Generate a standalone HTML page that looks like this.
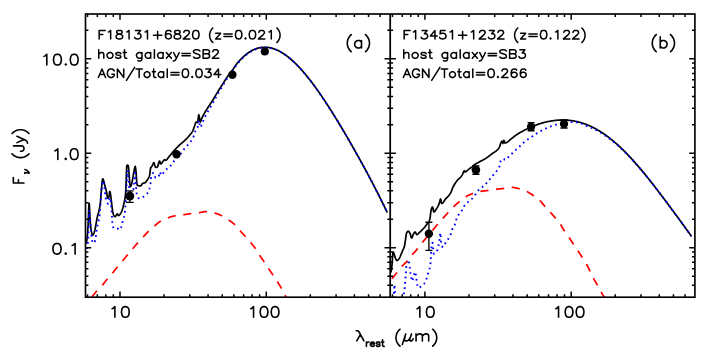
<!DOCTYPE html>
<html><head><meta charset="utf-8"><title>SED decomposition</title><style>html,body{margin:0;padding:0;background:#fff;width:709px;height:354px;overflow:hidden}body{font-family:"Liberation Sans",sans-serif;position:relative}</style></head><body>
<svg width="709" height="354" viewBox="0 0 709 354" style="display:block;position:absolute;left:0;top:0">
<rect width="709" height="354" fill="#fff"/>
<defs><clipPath id="cl"><rect x="85.50" y="14.00" width="304.70" height="283.20"/></clipPath><clipPath id="cr"><rect x="390.20" y="14.00" width="304.70" height="283.20"/></clipPath></defs>
<g clip-path="url(#cl)" fill="none" stroke-linejoin="round">
<path d="M86.30 243.00 L86.60 241.94 L86.90 239.88 L87.20 237.02 L87.50 233.56 L87.80 229.70 L88.10 225.31 L88.40 217.46 L88.70 208.67 L89.00 203.06 L89.30 203.89 L89.60 209.25 L89.90 216.06 L90.20 221.30 L90.50 224.59 L90.80 227.46 L91.10 229.76 L91.40 231.39 L91.70 232.80 L92.00 234.02 L92.30 234.88 L92.60 235.20 L92.90 235.07 L93.20 234.72 L93.50 234.18 L93.80 233.49 L94.10 232.69 L94.40 231.81 L94.70 230.90 L95.00 229.71 L95.30 228.12 L95.60 226.37 L95.90 224.70 L96.20 223.09 L96.50 221.41 L96.80 219.74 L97.10 218.14 L97.40 216.67 L97.70 215.41 L98.00 214.38 L98.30 213.44 L98.60 212.40 L98.90 211.15 L99.20 209.82 L99.50 208.36 L99.80 206.71 L100.10 204.81 L100.40 202.60 L100.70 199.36 L101.00 195.16 L101.30 191.12 L101.60 187.81 L101.90 184.35 L102.20 181.27 L102.50 179.25 L102.80 178.83 L103.10 179.18 L103.40 179.89 L103.70 180.87 L104.00 182.02 L104.30 183.25 L104.60 184.47 L104.90 185.60 L105.20 186.68 L105.50 187.80 L105.80 188.98 L106.10 190.21 L106.40 191.50 L106.70 192.91 L107.00 194.85 L107.30 196.81 L107.60 198.00 L107.90 198.06 L108.20 197.87 L108.50 197.53 L108.80 197.07 L109.10 195.98 L109.40 193.46 L109.70 191.47 L110.00 191.58 L110.30 192.87 L110.60 194.83 L110.90 197.06 L111.20 199.24 L111.50 201.91 L111.80 204.85 L112.10 207.48 L112.40 209.52 L112.70 211.43 L113.00 213.07 L113.30 214.25 L113.60 214.92 L113.90 215.49 L114.20 215.99 L114.50 216.37 L114.80 216.61 L115.10 216.70 L115.40 216.56 L115.70 216.19 L116.00 215.68 L116.30 215.11 L116.60 214.57 L116.90 214.14 L117.20 213.92 L117.50 214.03 L117.80 214.54 L118.10 215.16 L118.40 215.57 L118.70 215.57 L119.00 215.43 L119.30 215.18 L119.60 214.85 L119.90 214.46 L120.20 214.04 L120.50 213.59 L120.80 213.15 L121.10 212.62 L121.40 212.00 L121.70 211.30 L122.00 210.52 L122.30 209.69 L122.60 208.78 L122.90 207.73 L123.20 206.55 L123.50 205.29 L123.80 203.96 L124.10 202.60 L124.40 201.28 L124.70 199.92 L125.00 198.27 L125.30 196.10 L125.60 193.00 L125.90 188.61 L126.20 180.60 L126.50 170.80 L126.80 165.60 L127.10 165.34 L127.40 165.22 L127.70 165.22 L128.00 165.46 L128.30 165.97 L128.60 167.90 L128.90 172.00 L129.20 175.60 L129.50 179.50 L129.80 183.08 L130.10 185.69 L130.40 186.70 L130.70 186.43 L131.00 185.78 L131.30 185.00 L131.60 184.08 L131.90 182.87 L132.20 181.43 L132.50 179.82 L132.80 178.08 L133.10 176.29 L133.40 174.48 L133.70 172.72 L134.00 171.07 L134.30 169.58 L134.60 168.30 L134.90 167.01 L135.20 166.30 L135.50 167.38 L135.80 169.50 L136.10 172.63 L136.40 177.01 L136.70 181.40 L137.00 184.53 L137.30 185.34 L137.60 185.45 L137.90 185.55 L138.20 185.63 L138.50 185.70 L138.80 185.76 L139.10 185.81 L139.40 185.85 L139.70 185.87 L140.00 185.89 L140.30 185.90 L140.60 185.89 L140.90 185.71 L141.20 185.38 L141.50 184.95 L141.80 184.47 L142.10 184.00 L142.40 183.61 L142.70 183.35 L143.00 183.23 L143.30 183.16 L143.60 183.10 L143.90 183.05 L144.20 183.00 L144.50 182.95 L144.80 182.87 L145.10 182.76 L145.40 182.55 L145.70 182.26 L146.00 181.89 L146.30 181.46 L146.60 181.01 L146.90 180.53 L147.20 180.05 L147.50 179.60 L147.80 179.17 L148.10 178.73 L148.40 178.25 L148.70 177.71 L149.00 177.07 L149.30 176.31 L149.60 175.40 L149.90 173.52 L150.20 170.79 L150.50 168.58 L150.80 167.74 L151.10 167.21 L151.40 166.82 L151.70 166.49 L152.00 166.14 L152.30 165.70 L152.60 165.06 L152.90 164.28 L153.20 163.51 L153.50 162.93 L153.80 162.70 L154.10 163.01 L154.40 163.81 L154.70 164.86 L155.00 165.96 L155.30 166.86 L155.60 167.36 L155.90 167.39 L156.20 167.35 L156.50 167.27 L156.80 167.17 L157.10 167.05 L157.40 166.90 L157.70 166.49 L158.00 165.66 L158.30 164.58 L158.60 163.42 L158.90 162.33 L159.20 161.48 L159.50 161.03 L159.80 161.22 L160.10 162.13 L160.40 163.22 L160.70 163.94 L161.00 163.96 L161.30 163.77 L161.60 163.46 L161.90 163.05 L162.20 162.58 L162.50 162.08 L162.80 161.58 L163.10 161.11 L163.40 160.71 L163.70 160.40 L164.00 160.08 L164.30 159.81 L164.60 159.70 L164.90 159.83 L165.20 160.09 L165.50 160.28 L165.80 160.28 L166.10 160.16 L166.40 159.96 L166.70 159.68 L167.00 159.35 L167.30 158.98 L167.60 158.57 L167.90 158.15 L168.20 157.73 L168.50 157.32 L168.80 156.94 L169.10 156.59 L169.40 156.24 L169.70 155.89 L170.00 155.53 L170.30 155.17 L170.60 154.80 L170.90 154.43 L171.20 154.06 L171.50 153.69 L171.80 153.33 L172.10 152.97 L172.40 152.62 L172.70 152.27 L173.00 151.92 L173.30 151.58 L173.60 151.24 L173.90 150.90 L174.20 150.56 L174.50 150.23 L174.80 149.90 L175.10 149.57 L175.40 149.24 L175.70 148.92 L176.00 148.60 L176.30 148.28 L176.60 147.97 L176.90 147.66 L177.20 147.35 L177.50 147.04 L177.80 146.73 L178.10 146.43 L178.40 146.13 L178.70 145.83 L179.00 145.53 L179.30 145.24 L179.60 144.95 L179.90 144.66 L180.20 144.38 L180.50 144.10 L180.80 143.83 L181.10 143.56 L181.40 143.30 L181.70 143.04 L182.00 142.79 L182.30 142.54 L182.60 142.29 L182.90 142.04 L183.20 141.79 L183.50 141.54 L183.80 141.28 L184.10 141.02 L184.40 140.76 L184.70 140.48 L185.00 140.20 L185.30 139.91 L185.60 139.62 L185.90 139.33 L186.20 139.03 L186.50 138.73 L186.80 138.42 L187.10 138.11 L187.40 137.79 L187.70 137.47 L188.00 137.14 L188.30 136.81 L188.60 136.47 L188.90 136.12 L189.20 135.76 L189.50 135.40 L189.80 135.04 L190.10 134.67 L190.40 134.31 L190.70 133.94 L191.00 133.56 L191.30 133.16 L191.60 132.75 L191.90 132.31 L192.20 131.84 L192.50 131.33 L192.80 130.79 L193.10 130.18 L193.40 129.44 L193.70 128.61 L194.00 127.73 L194.30 126.84 L194.60 126.00 L194.90 125.07 L195.20 124.01 L195.50 123.02 L195.80 122.29 L196.10 122.00 L196.40 122.07 L196.70 122.24 L197.00 122.43 L197.30 122.57 L197.60 122.47 L197.90 120.82 L198.20 118.20 L198.50 115.77 L198.80 114.70 L199.10 115.46 L199.40 117.27 L199.70 119.43 L200.00 121.24 L200.30 122.00 L200.60 121.62 L200.90 120.75 L201.20 119.75 L201.50 118.97 L201.80 118.31 L202.10 117.66 L202.40 117.04 L202.70 116.43 L203.00 115.84 L203.30 115.26 L203.60 114.70 L203.90 114.14 L204.20 113.60 L204.50 113.07 L204.80 112.55 L205.10 112.03 L205.40 111.53 L205.70 111.04 L206.00 110.56 L206.30 110.08 L206.60 109.60 L206.90 109.14 L207.20 108.67 L207.50 108.21 L207.80 107.75 L208.10 107.28 L208.40 106.82 L208.70 106.36 L209.00 105.89 L209.30 105.43 L209.60 104.98 L209.90 104.53 L210.20 104.08 L210.50 103.64 L210.80 103.19 L211.10 102.75 L211.40 102.30 L211.70 101.85 L212.00 101.39 L212.30 100.93 L212.60 100.46 L212.90 99.98 L213.20 99.49 L213.50 98.99 L213.80 98.49 L214.10 97.98 L214.40 97.46 L214.70 96.94 L215.00 96.43 L215.30 95.91 L215.60 95.39 L215.90 94.88 L216.20 94.37 L216.50 93.86 L216.80 93.36 L217.10 92.87 L217.40 92.39 L217.70 91.90 L218.00 91.42 L218.30 90.94 L218.60 90.46 L218.90 89.99 L219.20 89.51 L219.50 89.04 L219.80 88.57 L220.10 88.10 L220.40 87.63 L220.70 87.16 L221.00 86.70 L221.30 86.23 L221.60 85.76 L221.90 85.29 L222.20 84.82 L222.50 84.36 L222.80 83.89 L223.10 83.41 L223.40 82.94 L223.70 82.46 L224.00 81.98 L224.30 81.51 L224.60 81.03 L224.90 80.55 L225.20 80.08 L225.50 79.61 L225.80 79.14 L226.10 78.68 L226.40 78.22 L226.70 77.76 L227.00 77.32 L227.30 76.87 L227.60 76.44 L227.90 76.02 L228.20 75.61 L228.50 75.20 L228.80 74.80 L229.10 74.41 L229.40 74.03 L229.70 73.65 L230.00 73.27 L230.30 72.89 L230.60 72.52 L230.90 72.14 L231.20 71.76 L231.50 71.38 L231.80 70.99 L232.10 70.59 L232.40 70.19 L232.70 69.78 L233.00 69.36 L233.30 68.92 L233.60 68.47 L233.90 68.00 L234.20 67.53 L234.50 67.06 L234.80 66.59 L235.10 66.13 L235.40 65.68 L235.70 65.24 L236.00 64.83 L236.30 64.44 L236.60 64.05 L236.90 63.68 L237.20 63.31 L237.50 62.96 L237.80 62.60 L238.10 62.26 L238.40 61.92 L238.70 61.58 L239.00 61.24 L239.30 60.90 L239.60 60.57 L239.90 60.25 L240.20 59.92 L240.50 59.60 L240.80 59.29 L241.10 58.98 L241.40 58.67 L241.70 58.37 L242.00 58.08 L242.30 57.78 L242.60 57.50 L242.90 57.21 L243.20 56.93 L243.50 56.65 L243.80 56.38 L244.10 56.11 L244.40 55.85 L244.70 55.59 L245.00 55.33 L245.30 55.08 L245.60 54.84 L245.90 54.59 L246.20 54.36 L246.50 54.12 L246.80 53.89 L247.10 53.66 L247.40 53.44 L247.70 53.22 L248.00 53.01 L248.30 52.80 L248.60 52.59 L248.90 52.39 L249.20 52.19 L249.50 52.00 L249.80 51.81 L250.10 51.62 L250.40 51.44 L250.70 51.26 L251.00 51.09 L251.30 50.92 L251.60 50.75 L251.90 50.59 L252.20 50.43 L252.50 50.28 L252.80 50.13 L253.10 49.98 L253.40 49.84 L253.70 49.70 L254.00 49.57 L254.30 49.44 L254.60 49.31 L254.90 49.19 L255.20 49.07 L255.50 48.95 L255.80 48.84 L256.10 48.73 L256.40 48.63 L256.70 48.53 L257.00 48.43 L257.30 48.34 L257.60 48.26 L257.90 48.17 L258.20 48.09 L258.50 48.01 L258.80 47.93 L259.10 47.86 L259.40 47.79 L259.70 47.73 L260.00 47.68 L260.30 47.63 L260.60 47.58 L260.90 47.52 L261.20 47.48 L261.50 47.43 L261.80 47.39 L262.10 47.35 L262.40 47.32 L262.70 47.30 L263.00 47.29 L263.30 47.29 L263.60 47.28 L263.90 47.28 L264.20 47.28 L264.50 47.27 L264.80 47.27 L265.10 47.27 L265.40 47.27 L265.70 47.27 L266.00 47.27 L266.30 47.27 L266.60 47.29 L266.90 47.31 L267.20 47.34 L267.50 47.37 L267.80 47.41 L268.10 47.45 L268.40 47.50 L268.70 47.54 L269.00 47.58 L269.30 47.63 L269.60 47.68 L269.90 47.74 L270.20 47.80 L270.50 47.87 L270.80 47.94 L271.10 48.01 L271.40 48.08 L271.70 48.16 L272.00 48.24 L272.30 48.32 L272.60 48.40 L272.90 48.49 L273.20 48.59 L273.50 48.68 L273.80 48.78 L274.10 48.89 L274.40 48.99 L274.70 49.10 L275.00 49.21 L275.30 49.32 L275.60 49.44 L275.90 49.56 L276.20 49.69 L276.50 49.81 L276.80 49.95 L277.10 50.08 L277.40 50.22 L277.70 50.35 L278.00 50.50 L278.30 50.64 L278.60 50.79 L278.90 50.94 L279.20 51.09 L279.50 51.25 L279.80 51.41 L280.10 51.57 L280.40 51.74 L280.70 51.91 L281.00 52.08 L281.30 52.25 L281.60 52.43 L281.90 52.61 L282.20 52.79 L282.50 52.97 L282.80 53.16 L283.10 53.35 L283.40 53.55 L283.70 53.74 L284.00 53.94 L284.30 54.14 L284.60 54.35 L284.90 54.55 L285.20 54.76 L285.50 54.98 L285.80 55.19 L286.10 55.41 L286.40 55.63 L286.70 55.85 L287.00 56.08 L287.30 56.31 L287.60 56.54 L287.90 56.77 L288.20 57.01 L288.50 57.24 L288.80 57.49 L289.10 57.73 L289.40 57.97 L289.70 58.22 L290.00 58.47 L290.30 58.73 L290.60 58.98 L290.90 59.24 L291.20 59.50 L291.50 59.76 L291.80 60.03 L292.10 60.30 L292.40 60.57 L292.70 60.84 L293.00 61.11 L293.30 61.39 L293.60 61.67 L293.90 61.95 L294.20 62.23 L294.50 62.52 L294.80 62.81 L295.10 63.10 L295.40 63.39 L295.70 63.69 L296.00 63.98 L296.30 64.28 L296.60 64.58 L296.90 64.89 L297.20 65.19 L297.50 65.50 L297.80 65.81 L298.10 66.12 L298.40 66.44 L298.70 66.75 L299.00 67.07 L299.30 67.39 L299.60 67.72 L299.90 68.04 L300.20 68.37 L300.50 68.70 L300.80 69.03 L301.10 69.36 L301.40 69.69 L301.70 70.03 L302.00 70.37 L302.30 70.71 L302.60 71.05 L302.90 71.40 L303.20 71.74 L303.50 72.09 L303.80 72.44 L304.10 72.79 L304.40 73.15 L304.70 73.50 L305.00 73.86 L305.30 74.22 L305.60 74.58 L305.90 74.94 L306.20 75.30 L306.50 75.67 L306.80 76.04 L307.10 76.41 L307.40 76.78 L307.70 77.15 L308.00 77.53 L308.30 77.90 L308.60 78.28 L308.90 78.66 L309.20 79.04 L309.50 79.43 L309.80 79.81 L310.10 80.20 L310.40 80.59 L310.70 80.98 L311.00 81.37 L311.30 81.76 L311.60 82.15 L311.90 82.55 L312.20 82.95 L312.50 83.35 L312.80 83.75 L313.10 84.15 L313.40 84.55 L313.70 84.96 L314.00 85.36 L314.30 85.77 L314.60 86.18 L314.90 86.59 L315.20 87.00 L315.50 87.42 L315.80 87.83 L316.10 88.25 L316.40 88.67 L316.70 89.09 L317.00 89.51 L317.30 89.93 L317.60 90.35 L317.90 90.78 L318.20 91.20 L318.50 91.63 L318.80 92.06 L319.10 92.49 L319.40 92.92 L319.70 93.35 L320.00 93.79 L320.30 94.22 L320.60 94.66 L320.90 95.09 L321.20 95.53 L321.50 95.97 L321.80 96.41 L322.10 96.86 L322.40 97.30 L322.70 97.74 L323.00 98.19 L323.30 98.64 L323.60 99.08 L323.90 99.53 L324.20 99.98 L324.50 100.43 L324.80 100.89 L325.10 101.34 L325.40 101.79 L325.70 102.25 L326.00 102.71 L326.30 103.16 L326.60 103.62 L326.90 104.08 L327.20 104.54 L327.50 105.01 L327.80 105.47 L328.10 105.93 L328.40 106.40 L328.70 106.87 L329.00 107.33 L329.30 107.80 L329.60 108.27 L329.90 108.74 L330.20 109.21 L330.50 109.68 L330.80 110.15 L331.10 110.63 L331.40 111.10 L331.70 111.58 L332.00 112.06 L332.30 112.53 L332.60 113.01 L332.90 113.49 L333.20 113.97 L333.50 114.45 L333.80 114.93 L334.10 115.42 L334.40 115.90 L334.70 116.38 L335.00 116.87 L335.30 117.35 L335.60 117.84 L335.90 118.33 L336.20 118.82 L336.50 119.31 L336.80 119.80 L337.10 120.29 L337.40 120.78 L337.70 121.27 L338.00 121.77 L338.30 122.26 L338.60 122.75 L338.90 123.25 L339.20 123.75 L339.50 124.24 L339.80 124.74 L340.10 125.24 L340.40 125.74 L340.70 126.24 L341.00 126.74 L341.30 127.24 L341.60 127.75 L341.90 128.25 L342.20 128.75 L342.50 129.26 L342.80 129.76 L343.10 130.27 L343.40 130.77 L343.70 131.28 L344.00 131.79 L344.30 132.30 L344.60 132.81 L344.90 133.32 L345.20 133.83 L345.50 134.34 L345.80 134.85 L346.10 135.36 L346.40 135.88 L346.70 136.39 L347.00 136.91 L347.30 137.42 L347.60 137.94 L347.90 138.45 L348.20 138.97 L348.50 139.49 L348.80 140.01 L349.10 140.53 L349.40 141.05 L349.70 141.57 L350.00 142.09 L350.30 142.61 L350.60 143.13 L350.90 143.66 L351.20 144.18 L351.50 144.71 L351.80 145.23 L352.10 145.76 L352.40 146.28 L352.70 146.81 L353.00 147.34 L353.30 147.86 L353.60 148.39 L353.90 148.92 L354.20 149.45 L354.50 149.98 L354.80 150.52 L355.10 151.05 L355.40 151.58 L355.70 152.11 L356.00 152.65 L356.30 153.18 L356.60 153.72 L356.90 154.25 L357.20 154.79 L357.50 155.33 L357.80 155.86 L358.10 156.40 L358.40 156.94 L358.70 157.48 L359.00 158.02 L359.30 158.56 L359.60 159.10 L359.90 159.65 L360.20 160.19 L360.50 160.73 L360.80 161.28 L361.10 161.82 L361.40 162.37 L361.70 162.91 L362.00 163.46 L362.30 164.01 L362.60 164.56 L362.90 165.11 L363.20 165.66 L363.50 166.21 L363.80 166.76 L364.10 167.31 L364.40 167.86 L364.70 168.41 L365.00 168.97 L365.30 169.52 L365.60 170.08 L365.90 170.63 L366.20 171.19 L366.50 171.75 L366.80 172.31 L367.10 172.87 L367.40 173.43 L367.70 173.99 L368.00 174.55 L368.30 175.11 L368.60 175.67 L368.90 176.24 L369.20 176.80 L369.50 177.37 L369.80 177.93 L370.10 178.50 L370.40 179.07 L370.70 179.64 L371.00 180.21 L371.30 180.78 L371.60 181.35 L371.90 181.92 L372.20 182.49 L372.50 183.07 L372.80 183.64 L373.10 184.22 L373.40 184.80 L373.70 185.37 L374.00 185.95 L374.30 186.53 L374.60 187.11 L374.90 187.69 L375.20 188.28 L375.50 188.86 L375.80 189.44 L376.10 190.03 L376.40 190.62 L376.70 191.20 L377.00 191.79 L377.30 192.38 L377.60 192.97 L377.90 193.56 L378.20 194.16 L378.50 194.75 L378.80 195.34 L379.10 195.94 L379.40 196.54 L379.70 197.14 L380.00 197.74 L380.30 198.34 L380.60 198.94 L380.90 199.54 L381.20 200.15 L381.50 200.75 L381.80 201.36 L382.10 201.96 L382.40 202.57 L382.70 203.18 L383.00 203.80 L383.30 204.41 L383.60 205.02 L383.90 205.64 L384.20 206.26 L384.50 206.88 L384.80 207.50 L385.10 208.12 L385.40 208.74 L385.70 209.36 L386.00 209.99 L386.30 210.61 L386.60 211.24 L386.90 211.87 L386.90 211.87" stroke="#000" stroke-width="1.7" stroke-linecap="round"/>
<path d="M87.20 249.00 L87.50 246.50 L87.80 244.23 L88.10 240.71 L88.40 233.88 L88.70 225.30 L89.00 220.20 L89.30 210.21 L89.60 212.38 L89.90 217.35 L90.20 220.20 L90.50 224.36 L90.80 228.83 L91.10 232.50 L91.40 235.04 L91.70 237.10 L92.00 239.14 L92.30 241.09 L92.60 242.45 L92.90 242.83 L93.20 242.90 L93.50 242.95 L93.80 242.98 L94.10 243.00 L94.40 242.86 L94.70 242.19 L95.00 241.10 L95.30 239.72 L95.60 238.20 L95.90 235.89 L96.20 233.20 L96.50 230.86 L96.80 228.69 L97.10 227.00 L97.40 225.70 L97.70 224.58 L98.00 223.42 L98.30 222.15 L98.60 220.90 L98.90 219.55 L99.20 217.93 L99.50 215.82 L99.80 212.89 L100.10 208.26 L100.40 204.32 L100.70 200.90 L101.00 194.70 L101.30 191.39 L101.60 188.66 L101.90 185.93 L102.20 183.90 L102.50 182.15 L102.80 180.89 L103.10 180.64 L103.40 181.24 L103.70 182.38 L104.00 183.90 L104.30 185.60 L104.60 188.18 L104.90 191.30 L105.20 194.36 L105.50 196.90 L105.80 198.57 L106.10 199.95 L106.40 201.00 L106.70 201.70 L107.00 202.29 L107.30 202.81 L107.60 203.24 L107.90 203.54 L108.20 203.69 L108.50 203.30 L108.80 201.65 L109.10 199.55 L109.40 197.90 L109.70 197.53 L110.00 198.00 L110.30 198.96 L110.60 200.35 L110.90 203.50 L111.20 207.55 L111.50 209.70 L111.80 213.29 L112.10 218.71 L112.40 222.19 L112.70 224.38 L113.00 226.24 L113.30 227.58 L113.60 228.10 L113.90 228.10 L114.20 228.10 L114.50 228.10 L114.80 228.10 L115.10 228.10 L115.40 228.10 L115.70 228.10 L116.00 228.10 L116.30 228.10 L116.60 228.10 L116.90 228.11 L117.20 228.22 L117.50 228.43 L117.80 228.70 L118.10 229.00 L118.40 229.30 L118.70 229.55 L119.00 229.73 L119.30 229.80 L119.60 229.72 L119.90 229.50 L120.20 229.15 L120.50 228.68 L120.80 228.10 L121.10 227.44 L121.40 226.69 L121.70 225.87 L122.00 225.00 L122.30 223.83 L122.60 221.94 L122.90 220.07 L123.20 218.86 L123.50 218.02 L123.80 217.33 L124.10 216.60 L124.40 215.66 L124.70 214.30 L125.00 211.37 L125.30 207.57 L125.60 203.20 L125.90 194.78 L126.20 189.45 L126.50 185.13 L126.80 179.64 L127.10 174.57 L127.40 170.38 L127.70 170.78 L128.00 173.78 L128.30 177.08 L128.60 180.78 L128.90 184.50 L129.20 187.90 L129.50 190.72 L129.80 193.33 L130.10 195.11 L130.40 195.49 L130.70 195.29 L131.00 194.91 L131.30 194.40 L131.60 193.81 L131.90 193.20 L132.20 192.60 L132.50 191.96 L132.80 191.22 L133.10 190.33 L133.40 189.24 L133.70 187.90 L134.00 185.47 L134.30 182.30 L134.60 178.49 L134.90 174.53 L135.20 172.70 L135.50 175.48 L135.80 181.33 L136.10 186.91 L136.40 191.23 L136.70 193.86 L137.00 195.52 L137.30 196.19 L137.60 196.72 L137.90 197.18 L138.20 197.58 L138.50 197.91 L138.80 198.18 L139.10 198.38 L139.40 198.51 L139.70 198.59 L140.00 198.60 L140.30 198.56 L140.60 198.49 L140.90 198.38 L141.20 198.24 L141.50 198.08 L141.80 197.90 L142.10 197.70 L142.40 197.50 L142.70 197.30 L143.00 197.09 L143.30 196.90 L143.60 196.71 L143.90 196.51 L144.20 196.31 L144.50 196.10 L144.80 195.87 L145.10 195.64 L145.40 195.39 L145.70 195.12 L146.00 194.83 L146.30 194.53 L146.60 194.20 L146.90 193.85 L147.20 193.47 L147.50 193.04 L147.80 192.55 L148.10 191.99 L148.40 191.37 L148.70 190.68 L149.00 189.92 L149.30 189.09 L149.60 188.19 L149.90 187.18 L150.20 185.89 L150.50 184.13 L150.80 180.26 L151.10 177.12 L151.40 176.09 L151.70 175.22 L152.00 174.50 L152.30 173.93 L152.60 173.49 L152.90 173.18 L153.20 172.99 L153.50 172.91 L153.80 173.06 L154.10 173.77 L154.40 174.82 L154.70 175.95 L155.00 176.92 L155.30 177.46 L155.60 177.50 L155.90 177.49 L156.20 177.48 L156.50 177.46 L156.80 177.44 L157.10 177.40 L157.40 177.36 L157.70 177.31 L158.00 177.25 L158.30 177.18 L158.60 177.10 L158.90 176.10 L159.20 174.11 L159.50 172.34 L159.80 171.93 L160.10 172.29 L160.40 172.94 L160.70 173.73 L161.00 174.50 L161.30 175.07 L161.60 175.30 L161.90 175.20 L162.20 174.93 L162.50 174.53 L162.80 174.02 L163.10 173.44 L163.40 172.84 L163.70 172.24 L164.00 171.67 L164.30 171.18 L164.60 170.80 L164.90 170.50 L165.20 170.22 L165.50 169.97 L165.80 169.73 L166.10 169.50 L166.40 169.28 L166.70 169.07 L167.00 168.85 L167.30 168.64 L167.60 168.41 L167.90 168.17 L168.20 167.91 L168.50 167.66 L168.80 167.40 L169.10 167.14 L169.40 166.88 L169.70 166.61 L170.00 166.34 L170.30 166.05 L170.60 165.76 L170.90 165.45 L171.20 165.14 L171.50 164.80 L171.80 164.43 L172.10 164.03 L172.40 163.60 L172.70 163.15 L173.00 162.68 L173.30 162.21 L173.60 161.74 L173.90 161.28 L174.20 160.84 L174.50 160.43 L174.80 160.05 L175.10 159.68 L175.40 159.32 L175.70 158.97 L176.00 158.64 L176.30 158.30 L176.60 157.98 L176.90 157.66 L177.20 157.35 L177.50 157.04 L177.80 156.73 L178.10 156.42 L178.40 156.12 L178.70 155.81 L179.00 155.50 L179.30 155.19 L179.60 154.87 L179.90 154.55 L180.20 154.23 L180.50 153.90 L180.80 153.55 L181.10 153.21 L181.40 152.85 L181.70 152.47 L182.00 152.08 L182.30 151.67 L182.60 151.25 L182.90 150.82 L183.20 150.38 L183.50 149.94 L183.80 149.51 L184.10 149.08 L184.40 148.67 L184.70 148.27 L185.00 147.90 L185.30 147.55 L185.60 147.22 L185.90 146.90 L186.20 146.59 L186.50 146.29 L186.80 145.99 L187.10 145.69 L187.40 145.39 L187.70 145.09 L188.00 144.77 L188.30 144.44 L188.60 144.10 L188.90 143.75 L189.20 143.40 L189.50 143.04 L189.80 142.68 L190.10 142.31 L190.40 141.92 L190.70 141.53 L191.00 141.11 L191.30 140.68 L191.60 140.22 L191.90 139.74 L192.20 139.23 L192.50 138.69 L192.80 138.12 L193.10 137.51 L193.40 136.87 L193.70 136.19 L194.00 135.47 L194.30 134.70 L194.60 133.77 L194.90 132.66 L195.20 131.50 L195.50 130.44 L195.80 129.60 L196.10 129.02 L196.40 128.58 L196.70 128.22 L197.00 127.87 L197.30 127.48 L197.60 126.97 L197.90 126.28 L198.20 124.78 L198.50 121.90 L198.80 120.30 L199.10 121.39 L199.40 123.80 L199.70 126.21 L200.00 127.30 L200.30 127.19 L200.60 126.89 L200.90 126.44 L201.20 125.88 L201.50 125.24 L201.80 124.57 L202.10 123.91 L202.40 123.24 L202.70 122.41 L203.00 121.49 L203.30 120.55 L203.60 119.64 L203.90 118.83 L204.20 118.17 L204.50 117.57 L204.80 117.01 L205.10 116.48 L205.40 115.98 L205.70 115.49 L206.00 115.00 L206.30 114.50 L206.60 113.98 L206.90 113.44 L207.20 112.88 L207.50 112.32 L207.80 111.76 L208.10 111.20 L208.40 110.64 L208.70 110.08 L209.00 109.53 L209.30 109.00 L209.60 108.48 L209.90 107.97 L210.20 107.48 L210.50 106.98 L210.80 106.49 L211.10 106.00 L211.40 105.50 L211.70 105.00 L212.00 104.48 L212.30 103.94 L212.60 103.38 L212.90 102.82 L213.20 102.25 L213.50 101.67 L213.80 101.10 L214.10 100.54 L214.40 99.98 L214.70 99.43 L215.00 98.87 L215.30 98.32 L215.60 97.77 L215.90 97.23 L216.20 96.68 L216.50 96.14 L216.80 95.61 L217.10 95.08 L217.40 94.56 L217.70 94.04 L218.00 93.53 L218.30 93.02 L218.60 92.51 L218.90 92.01 L219.20 91.50 L219.50 91.00 L219.80 90.50 L220.10 90.00 L220.40 89.51 L220.70 89.01 L221.00 88.52 L221.30 88.02 L221.60 87.53 L221.90 87.03 L222.20 86.54 L222.50 86.04 L222.80 85.55 L223.10 85.05 L223.40 84.55 L223.70 84.04 L224.00 83.54 L224.30 83.04 L224.60 82.54 L224.90 82.04 L225.20 81.54 L225.50 81.04 L225.80 80.55 L226.10 80.07 L226.40 79.58 L226.70 79.11 L227.00 78.64 L227.30 78.18 L227.60 77.73 L227.90 77.29 L228.20 76.86 L228.50 76.43 L228.80 76.01 L229.10 75.60 L229.40 75.20 L229.70 74.80 L230.00 74.41 L230.30 74.02 L230.60 73.62 L230.90 73.23 L231.20 72.83 L231.50 72.44 L231.80 72.03 L232.10 71.62 L232.40 71.19 L232.70 70.76 L233.00 70.32 L233.30 69.87 L233.60 69.41 L233.90 68.93 L234.20 68.44 L234.50 67.94 L234.80 67.46 L235.10 66.99 L235.40 66.54 L235.70 66.10 L236.00 65.66 L236.30 65.24 L236.60 64.84 L236.90 64.45 L237.20 64.07 L237.50 63.70 L237.80 63.34 L238.10 62.98 L238.40 62.62 L238.70 62.27 L239.00 61.92 L239.30 61.58 L239.60 61.24 L239.90 60.90 L240.20 60.56 L240.50 60.24 L240.80 59.91 L241.10 59.59 L241.40 59.28 L241.70 58.97 L242.00 58.66 L242.30 58.36 L242.60 58.06 L242.90 57.77 L243.20 57.48 L243.50 57.19 L243.80 56.91 L244.10 56.64 L244.40 56.37 L244.70 56.10 L245.00 55.84 L245.30 55.58 L245.60 55.33 L245.90 55.08 L246.20 54.83 L246.50 54.59 L246.80 54.35 L247.10 54.12 L247.40 53.89 L247.70 53.67 L248.00 53.45 L248.30 53.23 L248.60 53.02 L248.90 52.81 L249.20 52.61 L249.50 52.41 L249.80 52.21 L250.10 52.02 L250.40 51.83 L250.70 51.65 L251.00 51.47 L251.30 51.30 L251.60 51.13 L251.90 50.96 L252.20 50.80 L252.50 50.64 L252.80 50.48 L253.10 50.33 L253.40 50.19 L253.70 50.04 L254.00 49.91 L254.30 49.77 L254.60 49.64 L254.90 49.51 L255.20 49.39 L255.50 49.27 L255.80 49.15 L256.10 49.04 L256.40 48.93 L256.70 48.83 L257.00 48.73 L257.30 48.63 L257.60 48.54 L257.90 48.45 L258.20 48.36 L258.50 48.28 L258.80 48.20 L259.10 48.13 L259.40 48.06 L259.70 48.00 L260.00 47.94 L260.30 47.88 L260.60 47.83 L260.90 47.77 L261.20 47.71 L261.50 47.66 L261.80 47.62 L262.10 47.59 L262.40 47.57 L262.70 47.55 L263.00 47.53 L263.30 47.52 L263.60 47.51 L263.90 47.50 L264.20 47.49 L264.50 47.49 L264.80 47.48 L265.10 47.48 L265.40 47.48 L265.70 47.48 L266.00 47.48 L266.30 47.48 L266.60 47.48 L266.90 47.50 L267.20 47.53 L267.50 47.57 L267.80 47.61 L268.10 47.64 L268.40 47.68 L268.70 47.72 L269.00 47.77 L269.30 47.81 L269.60 47.86 L269.90 47.92 L270.20 47.98 L270.50 48.04 L270.80 48.11 L271.10 48.18 L271.40 48.25 L271.70 48.33 L272.00 48.40 L272.30 48.48 L272.60 48.57 L272.90 48.66 L273.20 48.75 L273.50 48.85 L273.80 48.94 L274.10 49.05 L274.40 49.15 L274.70 49.26 L275.00 49.37 L275.30 49.48 L275.60 49.59 L275.90 49.71 L276.20 49.84 L276.50 49.96 L276.80 50.09 L277.10 50.23 L277.40 50.36 L277.70 50.50 L278.00 50.64 L278.30 50.78 L278.60 50.93 L278.90 51.08 L279.20 51.23 L279.50 51.39 L279.80 51.55 L280.10 51.71 L280.40 51.87 L280.70 52.04 L281.00 52.21 L281.30 52.38 L281.60 52.56 L281.90 52.73 L282.20 52.92 L282.50 53.10 L282.80 53.29 L283.10 53.48 L283.40 53.67 L283.70 53.86 L284.00 54.06 L284.30 54.26 L284.60 54.47 L284.90 54.67 L285.20 54.88 L285.50 55.09 L285.80 55.31 L286.10 55.52 L286.40 55.74 L286.70 55.96 L287.00 56.19 L287.30 56.41 L287.60 56.64 L287.90 56.88 L288.20 57.11 L288.50 57.35 L288.80 57.59 L289.10 57.83 L289.40 58.08 L289.70 58.32 L290.00 58.57 L290.30 58.83 L290.60 59.08 L290.90 59.34 L291.20 59.60 L291.50 59.86 L291.80 60.12 L292.10 60.39 L292.40 60.66 L292.70 60.93 L293.00 61.21 L293.30 61.48 L293.60 61.76 L293.90 62.04 L294.20 62.32 L294.50 62.61 L294.80 62.90 L295.10 63.19 L295.40 63.48 L295.70 63.77 L296.00 64.07 L296.30 64.37 L296.60 64.67 L296.90 64.97 L297.20 65.28 L297.50 65.59 L297.80 65.90 L298.10 66.21 L298.40 66.52 L298.70 66.84 L299.00 67.16 L299.30 67.48 L299.60 67.80 L299.90 68.12 L300.20 68.45 L300.50 68.78 L300.80 69.11 L301.10 69.44 L301.40 69.77 L301.70 70.11 L302.00 70.45 L302.30 70.79 L302.60 71.13 L302.90 71.47 L303.20 71.82 L303.50 72.17 L303.80 72.52 L304.10 72.87 L304.40 73.22 L304.70 73.58 L305.00 73.93 L305.30 74.29 L305.60 74.65 L305.90 75.02 L306.20 75.38 L306.50 75.75 L306.80 76.11 L307.10 76.48 L307.40 76.85 L307.70 77.23 L308.00 77.60 L308.30 77.98 L308.60 78.35 L308.90 78.73 L309.20 79.12 L309.50 79.50 L309.80 79.88 L310.10 80.27 L310.40 80.66 L310.70 81.05 L311.00 81.44 L311.30 81.83 L311.60 82.22 L311.90 82.62 L312.20 83.01 L312.50 83.41 L312.80 83.81 L313.10 84.22 L313.40 84.62 L313.70 85.02 L314.00 85.43 L314.30 85.84 L314.60 86.24 L314.90 86.66 L315.20 87.07 L315.50 87.48 L315.80 87.90 L316.10 88.31 L316.40 88.73 L316.70 89.15 L317.00 89.57 L317.30 89.99 L317.60 90.41 L317.90 90.84 L318.20 91.26 L318.50 91.69 L318.80 92.12 L319.10 92.55 L319.40 92.98 L319.70 93.41 L320.00 93.84 L320.30 94.28 L320.60 94.71 L320.90 95.15 L321.20 95.59 L321.50 96.03 L321.80 96.47 L322.10 96.91 L322.40 97.35 L322.70 97.79 L323.00 98.24 L323.30 98.69 L323.60 99.13 L323.90 99.58 L324.20 100.03 L324.50 100.48 L324.80 100.93 L325.10 101.39 L325.40 101.84 L325.70 102.30 L326.00 102.75 L326.30 103.21 L326.60 103.67 L326.90 104.13 L327.20 104.59 L327.50 105.05 L327.80 105.51 L328.10 105.98 L328.40 106.44 L328.70 106.91 L329.00 107.37 L329.30 107.84 L329.60 108.31 L329.90 108.78 L330.20 109.25 L330.50 109.72 L330.80 110.19 L331.10 110.67 L331.40 111.14 L331.70 111.62 L332.00 112.09 L332.30 112.57 L332.60 113.05 L332.90 113.52 L333.20 114.00 L333.50 114.48 L333.80 114.97 L334.10 115.45 L334.40 115.93 L334.70 116.42 L335.00 116.90 L335.30 117.39 L335.60 117.87 L335.90 118.36 L336.20 118.85 L336.50 119.34 L336.80 119.83 L337.10 120.32 L337.40 120.81 L337.70 121.30 L338.00 121.79 L338.30 122.29 L338.60 122.78 L338.90 123.28 L339.20 123.77 L339.50 124.27 L339.80 124.77 L340.10 125.26 L340.40 125.76 L340.70 126.26 L341.00 126.76 L341.30 127.27 L341.60 127.77 L341.90 128.27 L342.20 128.77 L342.50 129.28 L342.80 129.78 L343.10 130.29 L343.40 130.79 L343.70 131.30 L344.00 131.81 L344.30 132.32 L344.60 132.83 L344.90 133.34 L345.20 133.85 L345.50 134.36 L345.80 134.87 L346.10 135.38 L346.40 135.89 L346.70 136.41 L347.00 136.92 L347.30 137.44 L347.60 137.95 L347.90 138.47 L348.20 138.99 L348.50 139.50 L348.80 140.02 L349.10 140.54 L349.40 141.06 L349.70 141.58 L350.00 142.10 L350.30 142.62 L350.60 143.15 L350.90 143.67 L351.20 144.19 L351.50 144.72 L351.80 145.24 L352.10 145.77 L352.40 146.29 L352.70 146.82 L353.00 147.35 L353.30 147.87 L353.60 148.40 L353.90 148.93 L354.20 149.46 L354.50 149.99 L354.80 150.52 L355.10 151.05 L355.40 151.59 L355.70 152.12 L356.00 152.65 L356.30 153.19 L356.60 153.72 L356.90 154.26 L357.20 154.79 L357.50 155.33 L357.80 155.87 L358.10 156.41 L358.40 156.95 L358.70 157.49 L359.00 158.03 L359.30 158.57 L359.60 159.11 L359.90 159.65 L360.20 160.19 L360.50 160.74 L360.80 161.28 L361.10 161.83 L361.40 162.37 L361.70 162.92 L362.00 163.46 L362.30 164.01 L362.60 164.56 L362.90 165.11 L363.20 165.66 L363.50 166.21 L363.80 166.76 L364.10 167.31 L364.40 167.86 L364.70 168.42 L365.00 168.97 L365.30 169.53 L365.60 170.08 L365.90 170.64 L366.20 171.19 L366.50 171.75 L366.80 172.31 L367.10 172.87 L367.40 173.43 L367.70 173.99 L368.00 174.55 L368.30 175.11 L368.60 175.68 L368.90 176.24 L369.20 176.80 L369.50 177.37 L369.80 177.94 L370.10 178.50 L370.40 179.07 L370.70 179.64 L371.00 180.21 L371.30 180.78 L371.60 181.35 L371.90 181.92 L372.20 182.50 L372.50 183.07 L372.80 183.64 L373.10 184.22 L373.40 184.80 L373.70 185.37 L374.00 185.95 L374.30 186.53 L374.60 187.11 L374.90 187.69 L375.20 188.28 L375.50 188.86 L375.80 189.44 L376.10 190.03 L376.40 190.62 L376.70 191.20 L377.00 191.79 L377.30 192.38 L377.60 192.97 L377.90 193.56 L378.20 194.16 L378.50 194.75 L378.80 195.35 L379.10 195.94 L379.40 196.54 L379.70 197.14 L380.00 197.74 L380.30 198.34 L380.60 198.94 L380.90 199.54 L381.20 200.15 L381.50 200.75 L381.80 201.36 L382.10 201.97 L382.40 202.57 L382.70 203.18 L383.00 203.80 L383.30 204.41 L383.60 205.02 L383.90 205.64 L384.20 206.26 L384.50 206.88 L384.80 207.50 L385.10 208.11 L385.40 208.68 L385.70 209.22 L386.00 209.81 L386.30 210.49 L386.60 211.36 L386.90 212.60 L386.90 212.60" stroke="#0000ff" stroke-width="1.9" stroke-dasharray="1.7 3.6" stroke-dashoffset="0.00"/>
<path d="M79.70 312.10 L80.10 311.60 L80.50 311.11 L80.90 310.61 L81.30 310.12 L81.70 309.62 L82.10 309.13 L82.50 308.63 L82.90 308.14 L83.30 307.64 L83.70 307.15 L84.10 306.65 L84.50 306.16 L84.90 305.66 L85.30 305.17 L85.70 304.67 L86.10 304.18 L86.50 303.68 L86.90 303.19 L87.30 302.70 L87.70 302.20 L88.10 301.71 L88.50 301.21 L88.90 300.72 L89.30 300.22 L89.70 299.73 L90.10 299.23 L90.50 298.74 L90.90 298.24 L91.30 297.75 L91.70 297.25 L92.10 296.75 L92.50 296.24 L92.90 295.73 L93.30 295.22 L93.70 294.71 L94.10 294.20 L94.50 293.69 L94.90 293.19 L95.30 292.69 L95.70 292.21 L96.10 291.73 L96.50 291.26 L96.90 290.81 L97.30 290.37 L97.70 289.96 L98.10 289.55 L98.50 289.16 L98.90 288.78 L99.30 288.40 L99.70 288.02 L100.10 287.64 L100.50 287.25 L100.90 286.85 L101.30 286.44 L101.70 286.01 L102.10 285.56 L102.50 285.09 L102.90 284.60 L103.30 284.10 L103.70 283.59 L104.10 283.08 L104.50 282.56 L104.90 282.04 L105.30 281.52 L105.70 281.01 L106.10 280.51 L106.50 280.02 L106.90 279.55 L107.30 279.08 L107.70 278.63 L108.10 278.18 L108.50 277.74 L108.90 277.29 L109.30 276.85 L109.70 276.41 L110.10 275.97 L110.50 275.52 L110.90 275.07 L111.30 274.61 L111.70 274.14 L112.10 273.66 L112.50 273.16 L112.90 272.66 L113.30 272.15 L113.70 271.62 L114.10 271.10 L114.50 270.57 L114.90 270.04 L115.30 269.51 L115.70 268.98 L116.10 268.46 L116.50 267.95 L116.90 267.44 L117.30 266.94 L117.70 266.46 L118.10 265.99 L118.50 265.52 L118.90 265.06 L119.30 264.61 L119.70 264.16 L120.10 263.71 L120.50 263.26 L120.90 262.81 L121.30 262.36 L121.70 261.90 L122.10 261.43 L122.50 260.96 L122.90 260.49 L123.30 260.01 L123.70 259.52 L124.10 259.04 L124.50 258.55 L124.90 258.06 L125.30 257.57 L125.70 257.07 L126.10 256.58 L126.50 256.09 L126.90 255.60 L127.30 255.11 L127.70 254.62 L128.10 254.14 L128.50 253.66 L128.90 253.18 L129.30 252.70 L129.70 252.22 L130.10 251.74 L130.50 251.26 L130.90 250.79 L131.30 250.31 L131.70 249.84 L132.10 249.37 L132.50 248.90 L132.90 248.43 L133.30 247.97 L133.70 247.51 L134.10 247.04 L134.50 246.58 L134.90 246.13 L135.30 245.67 L135.70 245.21 L136.10 244.76 L136.50 244.31 L136.90 243.86 L137.30 243.41 L137.70 242.96 L138.10 242.51 L138.50 242.07 L138.90 241.62 L139.30 241.18 L139.70 240.74 L140.10 240.30 L140.50 239.86 L140.90 239.43 L141.30 238.99 L141.70 238.56 L142.10 238.13 L142.50 237.70 L142.90 237.27 L143.30 236.84 L143.70 236.41 L144.10 235.99 L144.50 235.56 L144.90 235.12 L145.30 234.69 L145.70 234.25 L146.10 233.82 L146.50 233.38 L146.90 232.95 L147.30 232.52 L147.70 232.10 L148.10 231.68 L148.50 231.27 L148.90 230.87 L149.30 230.47 L149.70 230.09 L150.10 229.71 L150.50 229.35 L150.90 229.00 L151.30 228.65 L151.70 228.31 L152.10 227.97 L152.50 227.64 L152.90 227.31 L153.30 226.98 L153.70 226.65 L154.10 226.33 L154.50 226.00 L154.90 225.67 L155.30 225.33 L155.70 224.99 L156.10 224.64 L156.50 224.29 L156.90 223.95 L157.30 223.60 L157.70 223.26 L158.10 222.93 L158.50 222.61 L158.90 222.29 L159.30 221.99 L159.70 221.70 L160.10 221.43 L160.50 221.18 L160.90 220.94 L161.30 220.72 L161.70 220.50 L162.10 220.29 L162.50 220.09 L162.90 219.89 L163.30 219.70 L163.70 219.52 L164.10 219.34 L164.50 219.17 L164.90 219.00 L165.30 218.83 L165.70 218.67 L166.10 218.52 L166.50 218.37 L166.90 218.22 L167.30 218.07 L167.70 217.93 L168.10 217.79 L168.50 217.65 L168.90 217.51 L169.30 217.37 L169.70 217.23 L170.10 217.10 L170.50 216.97 L170.90 216.84 L171.30 216.72 L171.70 216.60 L172.10 216.48 L172.50 216.37 L172.90 216.26 L173.30 216.16 L173.70 216.07 L174.10 215.98 L174.50 215.89 L174.90 215.82 L175.30 215.75 L175.70 215.68 L176.10 215.62 L176.50 215.57 L176.90 215.51 L177.30 215.46 L177.70 215.41 L178.10 215.36 L178.50 215.32 L178.90 215.27 L179.30 215.23 L179.70 215.19 L180.10 215.14 L180.50 215.10 L180.90 215.06 L181.30 215.01 L181.70 214.97 L182.10 214.92 L182.50 214.87 L182.90 214.81 L183.30 214.76 L183.70 214.70 L184.10 214.64 L184.50 214.58 L184.90 214.51 L185.30 214.45 L185.70 214.38 L186.10 214.31 L186.50 214.25 L186.90 214.18 L187.30 214.11 L187.70 214.04 L188.10 213.98 L188.50 213.92 L188.90 213.85 L189.30 213.79 L189.70 213.73 L190.10 213.68 L190.50 213.63 L190.90 213.58 L191.30 213.53 L191.70 213.48 L192.10 213.44 L192.50 213.40 L192.90 213.36 L193.30 213.32 L193.70 213.28 L194.10 213.24 L194.50 213.20 L194.90 213.17 L195.30 213.13 L195.70 213.09 L196.10 213.05 L196.50 213.01 L196.90 212.97 L197.30 212.93 L197.70 212.88 L198.10 212.84 L198.50 212.79 L198.90 212.73 L199.30 212.67 L199.70 212.60 L200.10 212.52 L200.50 212.45 L200.90 212.37 L201.30 212.28 L201.70 212.20 L202.10 212.12 L202.50 212.04 L202.90 211.96 L203.30 211.89 L203.70 211.82 L204.10 211.76 L204.50 211.71 L204.90 211.67 L205.30 211.63 L205.70 211.61 L206.10 211.60 L206.50 211.60 L206.90 211.62 L207.30 211.64 L207.70 211.67 L208.10 211.71 L208.50 211.76 L208.90 211.82 L209.30 211.88 L209.70 211.95 L210.10 212.03 L210.50 212.11 L210.90 212.19 L211.30 212.28 L211.70 212.37 L212.10 212.46 L212.50 212.55 L212.90 212.64 L213.30 212.74 L213.70 212.83 L214.10 212.92 L214.50 213.02 L214.90 213.12 L215.30 213.23 L215.70 213.35 L216.10 213.47 L216.50 213.60 L216.90 213.74 L217.30 213.88 L217.70 214.02 L218.10 214.17 L218.50 214.33 L218.90 214.49 L219.30 214.65 L219.70 214.82 L220.10 214.99 L220.50 215.16 L220.90 215.34 L221.30 215.52 L221.70 215.70 L222.10 215.89 L222.50 216.09 L222.90 216.30 L223.30 216.51 L223.70 216.74 L224.10 216.98 L224.50 217.22 L224.90 217.46 L225.30 217.72 L225.70 217.97 L226.10 218.23 L226.50 218.50 L226.90 218.76 L227.30 219.03 L227.70 219.30 L228.10 219.57 L228.50 219.84 L228.90 220.11 L229.30 220.38 L229.70 220.66 L230.10 220.93 L230.50 221.22 L230.90 221.51 L231.30 221.80 L231.70 222.10 L232.10 222.40 L232.50 222.72 L232.90 223.04 L233.30 223.36 L233.70 223.70 L234.10 224.05 L234.50 224.41 L234.90 224.78 L235.30 225.18 L235.70 225.60 L236.10 226.04 L236.50 226.50 L236.90 226.96 L237.30 227.44 L237.70 227.92 L238.10 228.40 L238.50 228.89 L238.90 229.36 L239.30 229.83 L239.70 230.29 L240.10 230.73 L240.50 231.18 L240.90 231.62 L241.30 232.05 L241.70 232.49 L242.10 232.92 L242.50 233.36 L242.90 233.79 L243.30 234.23 L243.70 234.67 L244.10 235.10 L244.50 235.55 L244.90 235.99 L245.30 236.43 L245.70 236.88 L246.10 237.33 L246.50 237.77 L246.90 238.22 L247.30 238.67 L247.70 239.12 L248.10 239.57 L248.50 240.03 L248.90 240.48 L249.30 240.95 L249.70 241.41 L250.10 241.88 L250.50 242.35 L250.90 242.82 L251.30 243.29 L251.70 243.76 L252.10 244.23 L252.50 244.70 L252.90 245.18 L253.30 245.67 L253.70 246.17 L254.10 246.68 L254.50 247.20 L254.90 247.74 L255.30 248.30 L255.70 248.89 L256.10 249.51 L256.50 250.17 L256.90 250.85 L257.30 251.53 L257.70 252.22 L258.10 252.91 L258.50 253.58 L258.90 254.23 L259.30 254.85 L259.70 255.45 L260.10 256.04 L260.50 256.61 L260.90 257.18 L261.30 257.74 L261.70 258.29 L262.10 258.84 L262.50 259.40 L262.90 259.96 L263.30 260.53 L263.70 261.11 L264.10 261.70 L264.50 262.29 L264.90 262.90 L265.30 263.51 L265.70 264.12 L266.10 264.74 L266.50 265.35 L266.90 265.97 L267.30 266.58 L267.70 267.19 L268.10 267.80 L268.50 268.40 L268.90 269.00 L269.30 269.60 L269.70 270.19 L270.10 270.79 L270.50 271.38 L270.90 271.97 L271.30 272.57 L271.70 273.16 L272.10 273.76 L272.50 274.35 L272.90 274.95 L273.30 275.54 L273.70 276.14 L274.10 276.73 L274.50 277.32 L274.90 277.92 L275.30 278.52 L275.70 279.12 L276.10 279.73 L276.50 280.34 L276.90 280.97 L277.30 281.59 L277.70 282.21 L278.10 282.84 L278.50 283.47 L278.90 284.11 L279.30 284.75 L279.70 285.40 L280.10 286.06 L280.50 286.73 L280.90 287.41 L281.30 288.10 L281.70 288.81 L282.10 289.53 L282.50 290.26 L282.90 291.01 L283.30 291.77 L283.70 292.54 L284.10 293.31 L284.50 294.10 L284.90 294.90 L285.30 295.73 L285.70 296.59 L286.10 297.46 L286.50 298.34 L286.90 299.21 L287.30 300.07 L287.70 300.90 L288.10 301.71 L288.50 302.47 L288.90 303.21 L289.30 303.92 L289.70 304.62 L290.10 305.31 L290.50 305.99 L290.90 306.67 L291.30 307.34 L291.70 308.03 L292.10 308.73 L292.50 309.44 L292.90 310.17 L293.30 310.93 L293.70 311.70 L294.10 312.48 L294.50 313.26 L294.90 314.03 L295.30 314.78 L295.70 315.50 L296.10 316.19 L296.50 316.87 L296.90 317.52 L297.30 318.16 L297.70 318.81 L298.10 319.45 L298.50 320.10 L298.90 320.76 L299.30 321.44 L299.70 322.13 L300.10 322.82 L300.50 323.52 L300.90 324.22 L301.30 324.92 L301.70 325.63 L302.10 326.34 L302.50 327.06 L302.90 327.78 L303.30 328.51 L303.70 329.24 L304.10 329.98 L304.50 330.73 L304.70 331.10" stroke="#ff0000" stroke-width="1.7" stroke-dasharray="8.2 7.6" stroke-dashoffset="12.28"/>
</g>
<g clip-path="url(#cr)" fill="none" stroke-linejoin="round">
<path d="M391.00 272.00 L391.30 270.35 L391.60 268.27 L391.90 265.86 L392.20 262.69 L392.50 258.08 L392.80 253.85 L393.10 252.00 L393.40 252.24 L393.70 252.82 L394.00 253.50 L394.30 254.35 L394.60 255.46 L394.90 256.60 L395.20 257.56 L395.50 258.24 L395.80 258.91 L396.10 259.52 L396.40 260.03 L396.70 260.37 L397.00 260.50 L397.30 260.44 L397.60 260.28 L397.90 260.04 L398.20 259.73 L398.50 259.37 L398.80 258.98 L399.10 258.57 L399.40 258.16 L399.70 257.66 L400.00 257.07 L400.30 256.41 L400.60 255.69 L400.90 254.94 L401.20 254.18 L401.50 253.44 L401.80 252.71 L402.10 251.94 L402.40 251.15 L402.70 250.40 L403.00 249.74 L403.30 249.15 L403.60 248.57 L403.90 247.92 L404.20 247.14 L404.50 246.11 L404.80 244.47 L405.10 242.42 L405.40 240.34 L405.70 238.33 L406.00 236.07 L406.30 234.06 L406.60 232.90 L406.90 232.39 L407.20 231.96 L407.50 231.61 L407.80 231.37 L408.10 231.23 L408.40 231.21 L408.70 231.39 L409.00 231.75 L409.30 232.22 L409.60 232.76 L409.90 233.32 L410.20 233.95 L410.50 234.88 L410.80 235.95 L411.10 236.96 L411.40 237.71 L411.70 238.00 L412.00 237.74 L412.30 237.07 L412.60 236.18 L412.90 235.23 L413.20 234.40 L413.50 233.84 L413.80 233.35 L414.10 232.88 L414.40 232.47 L414.70 232.17 L415.00 232.01 L415.30 232.10 L415.60 232.54 L415.90 233.19 L416.20 233.86 L416.50 234.39 L416.80 234.60 L417.10 234.55 L417.40 234.42 L417.70 234.21 L418.00 233.96 L418.30 233.66 L418.60 233.34 L418.90 233.01 L419.20 232.69 L419.50 232.39 L419.80 232.12 L420.10 231.85 L420.40 231.58 L420.70 231.30 L421.00 231.02 L421.30 230.73 L421.60 230.44 L421.90 230.14 L422.20 229.84 L422.50 229.53 L422.80 229.21 L423.10 228.89 L423.40 228.57 L423.70 228.23 L424.00 227.90 L424.30 227.55 L424.60 227.20 L424.90 226.84 L425.20 226.48 L425.50 226.10 L425.80 225.71 L426.10 225.31 L426.40 224.90 L426.70 224.50 L427.00 224.12 L427.30 223.76 L427.60 223.40 L427.90 223.01 L428.20 222.60 L428.50 222.14 L428.80 221.63 L429.10 221.04 L429.40 220.36 L429.70 219.58 L430.00 218.42 L430.30 216.26 L430.60 213.66 L430.90 211.26 L431.20 209.70 L431.50 208.80 L431.80 207.99 L432.10 207.36 L432.40 206.98 L432.70 207.00 L433.00 208.20 L433.30 210.02 L433.60 211.53 L433.90 211.89 L434.20 211.79 L434.50 211.58 L434.80 211.28 L435.10 210.91 L435.40 210.48 L435.70 210.02 L436.00 209.54 L436.30 209.06 L436.60 208.60 L436.90 208.14 L437.20 207.65 L437.50 207.12 L437.80 206.56 L438.10 205.97 L438.40 205.33 L438.70 204.65 L439.00 203.93 L439.30 203.17 L439.60 202.20 L439.90 200.81 L440.20 199.55 L440.50 199.00 L440.80 199.70 L441.10 201.25 L441.40 202.80 L441.70 203.50 L442.00 203.45 L442.30 203.31 L442.60 203.08 L442.90 202.79 L443.20 202.43 L443.50 202.04 L443.80 201.61 L444.10 201.16 L444.40 200.70 L444.70 200.24 L445.00 199.79 L445.30 199.38 L445.60 199.00 L445.90 198.65 L446.20 198.32 L446.50 197.99 L446.80 197.67 L447.10 197.35 L447.40 197.04 L447.70 196.72 L448.00 196.40 L448.30 196.07 L448.60 195.73 L448.90 195.37 L449.20 195.00 L449.50 194.61 L449.80 194.20 L450.10 193.76 L450.40 193.30 L450.70 192.80 L451.00 192.21 L451.30 191.51 L451.60 190.72 L451.90 189.89 L452.20 189.05 L452.50 188.25 L452.80 187.52 L453.10 186.90 L453.40 186.33 L453.70 185.78 L454.00 185.24 L454.30 184.73 L454.60 184.23 L454.90 183.75 L455.20 183.28 L455.50 182.83 L455.80 182.40 L456.10 181.97 L456.40 181.56 L456.70 181.16 L457.00 180.77 L457.30 180.41 L457.60 180.07 L457.90 179.75 L458.20 179.44 L458.50 179.15 L458.80 178.87 L459.10 178.59 L459.40 178.31 L459.70 178.03 L460.00 177.74 L460.30 177.44 L460.60 177.12 L460.90 176.78 L461.20 176.42 L461.50 176.02 L461.80 175.60 L462.10 175.11 L462.40 174.53 L462.70 173.90 L463.00 173.25 L463.30 172.60 L463.60 172.00 L463.90 171.30 L464.20 170.75 L464.50 170.86 L464.80 171.46 L465.10 171.96 L465.40 171.96 L465.70 171.79 L466.00 171.54 L466.30 171.26 L466.60 171.03 L466.90 170.80 L467.20 170.57 L467.50 170.33 L467.80 170.09 L468.10 169.84 L468.40 169.60 L468.70 169.36 L469.00 169.11 L469.30 168.88 L469.60 168.65 L469.90 168.42 L470.20 168.20 L470.50 167.98 L470.80 167.75 L471.10 167.53 L471.40 167.30 L471.70 167.06 L472.00 166.82 L472.30 166.55 L472.60 166.26 L472.90 165.98 L473.20 165.69 L473.50 165.42 L473.80 165.17 L474.10 164.96 L474.40 164.75 L474.70 164.55 L475.00 164.35 L475.30 164.17 L475.60 163.99 L475.90 163.81 L476.20 163.64 L476.50 163.47 L476.80 163.31 L477.10 163.15 L477.40 162.99 L477.70 162.83 L478.00 162.67 L478.30 162.52 L478.60 162.36 L478.90 162.20 L479.20 162.03 L479.50 161.87 L479.80 161.70 L480.10 161.53 L480.40 161.36 L480.70 161.20 L481.00 161.03 L481.30 160.87 L481.60 160.71 L481.90 160.55 L482.20 160.39 L482.50 160.23 L482.80 160.06 L483.10 159.90 L483.40 159.74 L483.70 159.57 L484.00 159.41 L484.30 159.24 L484.60 159.07 L484.90 158.89 L485.20 158.72 L485.50 158.54 L485.80 158.35 L486.10 158.16 L486.40 157.97 L486.70 157.77 L487.00 157.57 L487.30 157.36 L487.60 157.15 L487.90 156.93 L488.20 156.71 L488.50 156.49 L488.80 156.26 L489.10 156.03 L489.40 155.80 L489.70 155.57 L490.00 155.34 L490.30 155.10 L490.60 154.87 L490.90 154.64 L491.20 154.41 L491.50 154.18 L491.80 153.95 L492.10 153.72 L492.40 153.50 L492.70 153.28 L493.00 153.07 L493.30 152.87 L493.60 152.67 L493.90 152.48 L494.20 152.29 L494.50 152.09 L494.80 151.90 L495.10 151.69 L495.40 151.49 L495.70 151.27 L496.00 151.05 L496.30 150.81 L496.60 150.55 L496.90 150.29 L497.20 150.00 L497.50 149.70 L497.80 149.37 L498.10 149.01 L498.40 148.61 L498.70 148.18 L499.00 147.71 L499.30 147.18 L499.60 146.61 L499.90 145.88 L500.20 144.86 L500.50 143.80 L500.80 143.00 L501.10 142.41 L501.40 141.87 L501.70 141.44 L502.00 141.22 L502.30 141.56 L502.60 142.77 L502.90 143.50 L503.20 142.79 L503.50 141.36 L503.80 140.29 L504.10 140.55 L504.40 141.83 L504.70 142.90 L505.00 142.99 L505.30 142.95 L505.60 142.88 L505.90 142.79 L506.20 142.70 L506.50 142.59 L506.80 142.45 L507.10 142.28 L507.40 142.09 L507.70 141.87 L508.00 141.63 L508.30 141.38 L508.60 141.12 L508.90 140.85 L509.20 140.57 L509.50 140.29 L509.80 140.01 L510.10 139.74 L510.40 139.47 L510.70 139.22 L511.00 138.98 L511.30 138.75 L511.60 138.52 L511.90 138.29 L512.20 138.06 L512.50 137.83 L512.80 137.60 L513.10 137.37 L513.40 137.14 L513.70 136.91 L514.00 136.68 L514.30 136.46 L514.60 136.23 L514.90 136.00 L515.20 135.78 L515.50 135.56 L515.80 135.34 L516.10 135.12 L516.40 134.90 L516.70 134.69 L517.00 134.48 L517.30 134.27 L517.60 134.07 L517.90 133.87 L518.20 133.68 L518.50 133.49 L518.80 133.30 L519.10 133.12 L519.40 132.95 L519.70 132.78 L520.00 132.61 L520.30 132.45 L520.60 132.29 L520.90 132.13 L521.20 131.98 L521.50 131.82 L521.80 131.66 L522.10 131.49 L522.40 131.33 L522.70 131.16 L523.00 131.00 L523.30 130.83 L523.60 130.67 L523.90 130.50 L524.20 130.34 L524.50 130.18 L524.80 130.02 L525.10 129.86 L525.40 129.71 L525.70 129.55 L526.00 129.40 L526.30 129.25 L526.60 129.10 L526.90 128.95 L527.20 128.80 L527.50 128.66 L527.80 128.51 L528.10 128.37 L528.40 128.23 L528.70 128.08 L529.00 127.94 L529.30 127.81 L529.60 127.67 L529.90 127.53 L530.20 127.40 L530.50 127.26 L530.80 127.13 L531.10 127.00 L531.40 126.87 L531.70 126.74 L532.00 126.62 L532.30 126.49 L532.60 126.36 L532.90 126.24 L533.20 126.12 L533.50 126.00 L533.80 125.88 L534.10 125.76 L534.40 125.64 L534.70 125.53 L535.00 125.41 L535.30 125.30 L535.60 125.18 L535.90 125.07 L536.20 124.96 L536.50 124.85 L536.80 124.74 L537.10 124.64 L537.40 124.53 L537.70 124.43 L538.00 124.33 L538.30 124.22 L538.60 124.12 L538.90 124.02 L539.20 123.92 L539.50 123.83 L539.80 123.73 L540.10 123.64 L540.40 123.54 L540.70 123.45 L541.00 123.36 L541.30 123.27 L541.60 123.18 L541.90 123.09 L542.20 123.01 L542.50 122.92 L542.80 122.84 L543.10 122.76 L543.40 122.67 L543.70 122.59 L544.00 122.52 L544.30 122.44 L544.60 122.36 L544.90 122.28 L545.20 122.21 L545.50 122.14 L545.80 122.06 L546.10 121.99 L546.40 121.93 L546.70 121.86 L547.00 121.79 L547.30 121.72 L547.60 121.66 L547.90 121.59 L548.20 121.53 L548.50 121.47 L548.80 121.41 L549.10 121.35 L549.40 121.30 L549.70 121.24 L550.00 121.19 L550.30 121.13 L550.60 121.08 L550.90 121.03 L551.20 120.98 L551.50 120.93 L551.80 120.88 L552.10 120.84 L552.40 120.79 L552.70 120.75 L553.00 120.71 L553.30 120.66 L553.60 120.62 L553.90 120.58 L554.20 120.55 L554.50 120.51 L554.80 120.48 L555.10 120.44 L555.40 120.41 L555.70 120.38 L556.00 120.35 L556.30 120.32 L556.60 120.29 L556.90 120.27 L557.20 120.24 L557.50 120.22 L557.80 120.20 L558.10 120.18 L558.40 120.16 L558.70 120.14 L559.00 120.12 L559.30 120.10 L559.60 120.09 L559.90 120.07 L560.20 120.06 L560.50 120.05 L560.80 120.05 L561.10 120.04 L561.40 120.04 L561.70 120.04 L562.00 120.04 L562.30 120.04 L562.60 120.04 L562.90 120.04 L563.20 120.04 L563.50 120.04 L563.80 120.04 L564.10 120.04 L564.40 120.04 L564.70 120.05 L565.00 120.06 L565.30 120.07 L565.60 120.09 L565.90 120.10 L566.20 120.12 L566.50 120.14 L566.80 120.16 L567.10 120.17 L567.40 120.19 L567.70 120.22 L568.00 120.24 L568.30 120.27 L568.60 120.29 L568.90 120.32 L569.20 120.35 L569.50 120.38 L569.80 120.42 L570.10 120.45 L570.40 120.48 L570.70 120.52 L571.00 120.56 L571.30 120.60 L571.60 120.64 L571.90 120.68 L572.20 120.73 L572.50 120.77 L572.80 120.82 L573.10 120.87 L573.40 120.91 L573.70 120.96 L574.00 121.02 L574.30 121.07 L574.60 121.13 L574.90 121.19 L575.20 121.24 L575.50 121.30 L575.80 121.37 L576.10 121.43 L576.40 121.49 L576.70 121.56 L577.00 121.62 L577.30 121.69 L577.60 121.76 L577.90 121.84 L578.20 121.91 L578.50 121.98 L578.80 122.06 L579.10 122.14 L579.40 122.22 L579.70 122.30 L580.00 122.38 L580.30 122.46 L580.60 122.55 L580.90 122.64 L581.20 122.72 L581.50 122.81 L581.80 122.91 L582.10 123.00 L582.40 123.09 L582.70 123.19 L583.00 123.28 L583.30 123.38 L583.60 123.48 L583.90 123.59 L584.20 123.69 L584.50 123.80 L584.80 123.90 L585.10 124.01 L585.40 124.12 L585.70 124.23 L586.00 124.34 L586.30 124.46 L586.60 124.57 L586.90 124.69 L587.20 124.81 L587.50 124.93 L587.80 125.05 L588.10 125.18 L588.40 125.30 L588.70 125.43 L589.00 125.55 L589.30 125.68 L589.60 125.82 L589.90 125.95 L590.20 126.08 L590.50 126.22 L590.80 126.36 L591.10 126.50 L591.40 126.64 L591.70 126.78 L592.00 126.92 L592.30 127.07 L592.60 127.21 L592.90 127.36 L593.20 127.51 L593.50 127.66 L593.80 127.82 L594.10 127.97 L594.40 128.13 L594.70 128.28 L595.00 128.44 L595.30 128.60 L595.60 128.77 L595.90 128.93 L596.20 129.10 L596.50 129.26 L596.80 129.43 L597.10 129.60 L597.40 129.77 L597.70 129.94 L598.00 130.12 L598.30 130.30 L598.60 130.47 L598.90 130.65 L599.20 130.83 L599.50 131.02 L599.80 131.20 L600.10 131.38 L600.40 131.57 L600.70 131.76 L601.00 131.95 L601.30 132.14 L601.60 132.33 L601.90 132.53 L602.20 132.72 L602.50 132.92 L602.80 133.12 L603.10 133.32 L603.40 133.52 L603.70 133.73 L604.00 133.93 L604.30 134.14 L604.60 134.35 L604.90 134.56 L605.20 134.77 L605.50 134.98 L605.80 135.19 L606.10 135.41 L606.40 135.63 L606.70 135.85 L607.00 136.07 L607.30 136.29 L607.60 136.51 L607.90 136.73 L608.20 136.96 L608.50 137.19 L608.80 137.42 L609.10 137.65 L609.40 137.88 L609.70 138.11 L610.00 138.35 L610.30 138.58 L610.60 138.82 L610.90 139.06 L611.20 139.30 L611.50 139.54 L611.80 139.79 L612.10 140.03 L612.40 140.28 L612.70 140.52 L613.00 140.77 L613.30 141.02 L613.60 141.28 L613.90 141.53 L614.20 141.78 L614.50 142.04 L614.80 142.30 L615.10 142.56 L615.40 142.82 L615.70 143.08 L616.00 143.34 L616.30 143.61 L616.60 143.87 L616.90 144.14 L617.20 144.41 L617.50 144.68 L617.80 144.95 L618.10 145.22 L618.40 145.49 L618.70 145.77 L619.00 146.05 L619.30 146.32 L619.60 146.60 L619.90 146.88 L620.20 147.16 L620.50 147.45 L620.80 147.73 L621.10 148.02 L621.40 148.30 L621.70 148.59 L622.00 148.88 L622.30 149.17 L622.60 149.46 L622.90 149.76 L623.20 150.05 L623.50 150.35 L623.80 150.64 L624.10 150.94 L624.40 151.24 L624.70 151.54 L625.00 151.84 L625.30 152.15 L625.60 152.45 L625.90 152.76 L626.20 153.06 L626.50 153.37 L626.80 153.68 L627.10 153.99 L627.40 154.30 L627.70 154.61 L628.00 154.93 L628.30 155.24 L628.60 155.56 L628.90 155.88 L629.20 156.19 L629.50 156.51 L629.80 156.83 L630.10 157.16 L630.40 157.48 L630.70 157.80 L631.00 158.13 L631.30 158.45 L631.60 158.78 L631.90 159.11 L632.20 159.44 L632.50 159.77 L632.80 160.10 L633.10 160.43 L633.40 160.76 L633.70 161.10 L634.00 161.43 L634.30 161.77 L634.60 162.11 L634.90 162.45 L635.20 162.79 L635.50 163.13 L635.80 163.47 L636.10 163.81 L636.40 164.15 L636.70 164.50 L637.00 164.84 L637.30 165.19 L637.60 165.53 L637.90 165.88 L638.20 166.23 L638.50 166.58 L638.80 166.93 L639.10 167.28 L639.40 167.63 L639.70 167.99 L640.00 168.34 L640.30 168.70 L640.60 169.05 L640.90 169.41 L641.20 169.77 L641.50 170.13 L641.80 170.49 L642.10 170.84 L642.40 171.21 L642.70 171.57 L643.00 171.93 L643.30 172.29 L643.60 172.66 L643.90 173.02 L644.20 173.39 L644.50 173.75 L644.80 174.12 L645.10 174.49 L645.40 174.86 L645.70 175.23 L646.00 175.60 L646.30 175.97 L646.60 176.34 L646.90 176.71 L647.20 177.08 L647.50 177.46 L647.80 177.83 L648.10 178.21 L648.40 178.58 L648.70 178.96 L649.00 179.33 L649.30 179.71 L649.60 180.09 L649.90 180.47 L650.20 180.85 L650.50 181.23 L650.80 181.61 L651.10 181.99 L651.40 182.37 L651.70 182.75 L652.00 183.13 L652.30 183.52 L652.60 183.90 L652.90 184.29 L653.20 184.67 L653.50 185.06 L653.80 185.44 L654.10 185.83 L654.40 186.22 L654.70 186.60 L655.00 186.99 L655.30 187.38 L655.60 187.77 L655.90 188.16 L656.20 188.55 L656.50 188.94 L656.80 189.33 L657.10 189.72 L657.40 190.11 L657.70 190.51 L658.00 190.90 L658.30 191.29 L658.60 191.68 L658.90 192.08 L659.20 192.47 L659.50 192.87 L659.80 193.26 L660.10 193.66 L660.40 194.05 L660.70 194.45 L661.00 194.85 L661.30 195.24 L661.60 195.64 L661.90 196.04 L662.20 196.44 L662.50 196.83 L662.80 197.23 L663.10 197.63 L663.40 198.03 L663.70 198.43 L664.00 198.83 L664.30 199.23 L664.60 199.63 L664.90 200.03 L665.20 200.43 L665.50 200.83 L665.80 201.24 L666.10 201.64 L666.40 202.04 L666.70 202.44 L667.00 202.84 L667.30 203.25 L667.60 203.65 L667.90 204.05 L668.20 204.46 L668.50 204.86 L668.80 205.27 L669.10 205.67 L669.40 206.07 L669.70 206.48 L670.00 206.88 L670.30 207.29 L670.60 207.69 L670.90 208.10 L671.20 208.51 L671.50 208.91 L671.80 209.32 L672.10 209.72 L672.40 210.13 L672.70 210.54 L673.00 210.94 L673.30 211.35 L673.60 211.76 L673.90 212.17 L674.20 212.57 L674.50 212.98 L674.80 213.39 L675.10 213.80 L675.40 214.20 L675.70 214.61 L676.00 215.02 L676.30 215.43 L676.60 215.84 L676.90 216.25 L677.20 216.66 L677.50 217.07 L677.80 217.48 L678.10 217.88 L678.40 218.29 L678.70 218.70 L679.00 219.11 L679.30 219.52 L679.60 219.93 L679.90 220.35 L680.20 220.76 L680.50 221.17 L680.80 221.58 L681.10 221.99 L681.40 222.40 L681.70 222.81 L682.00 223.22 L682.30 223.63 L682.60 224.05 L682.90 224.46 L683.20 224.87 L683.50 225.28 L683.80 225.69 L684.10 226.11 L684.40 226.52 L684.70 226.93 L685.00 227.34 L685.30 227.76 L685.60 228.17 L685.90 228.58 L686.20 229.00 L686.50 229.41 L686.80 229.83 L687.10 230.24 L687.40 230.66 L687.70 231.07 L688.00 231.49 L688.30 231.90 L688.60 232.32 L688.90 232.73 L689.20 233.15 L689.50 233.56 L689.80 233.98 L690.10 234.40 L690.40 234.81 L690.70 235.23 L691.00 235.65 L691.20 235.92" stroke="#000" stroke-width="1.7" stroke-linecap="round"/>
<path d="M393.20 299.00 L393.50 297.24 L393.80 293.95 L394.10 289.39 L394.40 284.51 L394.70 286.52 L395.00 293.51 L395.30 300.00 L395.60 300.00 L395.90 300.00 L396.20 300.00 L396.50 299.99 L396.80 299.99 L397.10 299.98 L397.40 299.97 L397.70 299.95 L398.00 299.93 L398.30 299.91 L398.60 299.89 L398.90 299.86 L399.20 299.82 L399.50 299.78 L399.80 299.73 L400.10 299.68 L400.40 299.62 L400.70 299.56 L401.00 299.48 L401.30 299.40 L401.60 299.32 L401.90 299.22 L402.20 299.11 L402.50 299.00 L402.80 296.44 L403.10 295.19 L403.40 294.34 L403.70 293.63 L404.00 292.79 L404.30 291.55 L404.60 289.31 L404.90 285.50 L405.20 280.00 L405.50 277.78 L405.80 275.83 L406.10 269.10 L406.40 265.07 L406.70 263.14 L407.00 261.91 L407.30 260.91 L407.60 260.19 L407.90 259.78 L408.20 259.74 L408.50 260.26 L408.80 261.29 L409.10 262.71 L409.40 264.40 L409.70 267.01 L410.00 270.40 L410.30 272.10 L410.60 273.35 L410.90 274.50 L411.20 275.90 L411.50 278.22 L411.80 280.58 L412.10 281.17 L412.40 280.74 L412.70 279.93 L413.00 278.86 L413.30 277.70 L413.60 276.56 L413.90 275.57 L414.20 274.39 L414.50 273.16 L414.80 272.19 L415.10 271.80 L415.40 272.40 L415.70 273.89 L416.00 275.85 L416.30 277.98 L416.60 281.04 L416.90 283.10 L417.20 284.52 L417.50 285.77 L417.80 286.80 L418.10 287.52 L418.40 287.87 L418.70 287.88 L419.00 287.81 L419.30 287.68 L419.60 287.50 L419.90 287.29 L420.20 287.04 L420.50 286.78 L420.80 286.50 L421.10 286.23 L421.40 285.95 L421.70 285.70 L422.00 285.46 L422.30 285.22 L422.60 284.98 L422.90 284.74 L423.20 284.48 L423.50 284.21 L423.80 283.92 L424.10 283.60 L424.40 283.25 L424.70 282.87 L425.00 282.45 L425.30 281.96 L425.60 281.31 L425.90 280.54 L426.20 279.68 L426.50 278.77 L426.80 277.82 L427.10 276.88 L427.40 275.86 L427.70 274.76 L428.00 273.63 L428.30 272.51 L428.60 271.47 L428.90 270.57 L429.20 269.72 L429.50 268.81 L429.80 267.71 L430.10 266.30 L430.40 264.41 L430.70 261.20 L431.00 253.65 L431.30 248.79 L431.60 245.40 L431.90 243.86 L432.20 243.03 L432.50 242.70 L432.80 244.35 L433.10 247.55 L433.40 250.63 L433.70 253.53 L434.00 253.79 L434.30 253.73 L434.60 253.62 L434.90 253.47 L435.20 253.27 L435.50 253.03 L435.80 252.75 L436.10 252.44 L436.40 252.10 L436.70 251.73 L437.00 251.24 L437.30 250.37 L437.60 249.23 L437.90 247.94 L438.20 246.63 L438.50 245.36 L438.80 244.04 L439.10 242.55 L439.40 240.80 L439.70 238.44 L440.00 235.70 L440.30 232.90 L440.60 234.77 L440.90 238.60 L441.20 244.20 L441.50 245.12 L441.80 245.83 L442.10 246.35 L442.40 246.70 L442.70 246.91 L443.00 246.99 L443.30 246.95 L443.60 246.71 L443.90 246.31 L444.20 245.77 L444.50 245.15 L444.80 244.48 L445.10 243.79 L445.40 243.14 L445.70 242.54 L446.00 242.04 L446.30 241.60 L446.60 241.17 L446.90 240.75 L447.20 240.35 L447.50 239.95 L447.80 239.54 L448.10 239.11 L448.40 238.67 L448.70 238.20 L449.00 237.70 L449.30 237.17 L449.60 236.61 L449.90 236.03 L450.20 235.42 L450.50 234.78 L450.80 234.09 L451.10 233.37 L451.40 232.60 L451.70 231.67 L452.00 230.54 L452.30 229.37 L452.60 228.28 L452.90 227.42 L453.20 226.85 L453.50 226.44 L453.80 226.10 L454.10 225.77 L454.40 225.40 L454.70 224.90 L455.00 224.16 L455.30 223.16 L455.60 222.03 L455.90 220.89 L456.20 219.86 L456.50 219.05 L456.80 218.34 L457.10 217.67 L457.40 217.04 L457.70 216.45 L458.00 215.89 L458.30 215.35 L458.60 214.84 L458.90 214.36 L459.20 213.90 L459.50 213.47 L459.80 213.08 L460.10 212.71 L460.40 212.35 L460.70 212.00 L461.00 211.64 L461.30 211.27 L461.60 210.87 L461.90 210.45 L462.20 209.98 L462.50 209.45 L462.80 208.88 L463.10 208.28 L463.40 207.67 L463.70 207.07 L464.00 206.49 L464.30 205.95 L464.60 205.48 L464.90 205.07 L465.20 204.71 L465.50 204.37 L465.80 204.06 L466.10 203.76 L466.40 203.48 L466.70 203.20 L467.00 202.94 L467.30 202.67 L467.60 202.39 L467.90 202.12 L468.20 201.85 L468.50 201.59 L468.80 201.34 L469.10 201.09 L469.40 200.85 L469.70 200.61 L470.00 200.37 L470.30 200.14 L470.60 199.89 L470.90 199.65 L471.20 199.40 L471.50 199.14 L471.80 198.87 L472.10 198.60 L472.40 198.31 L472.70 198.00 L473.00 197.68 L473.30 197.34 L473.60 196.98 L473.90 196.60 L474.20 196.21 L474.50 195.81 L474.80 195.40 L475.10 194.99 L475.40 194.58 L475.70 194.17 L476.00 193.76 L476.30 193.34 L476.60 192.90 L476.90 192.45 L477.20 192.00 L477.50 191.54 L477.80 191.10 L478.10 190.68 L478.40 190.29 L478.70 189.92 L479.00 189.60 L479.30 189.31 L479.60 189.05 L479.90 188.80 L480.20 188.57 L480.50 188.35 L480.80 188.14 L481.10 187.93 L481.40 187.73 L481.70 187.52 L482.00 187.31 L482.30 187.09 L482.60 186.85 L482.90 186.60 L483.20 186.34 L483.50 186.06 L483.80 185.78 L484.10 185.50 L484.40 185.21 L484.70 184.91 L485.00 184.61 L485.30 184.30 L485.60 183.99 L485.90 183.67 L486.20 183.35 L486.50 183.03 L486.80 182.71 L487.10 182.38 L487.40 182.05 L487.70 181.70 L488.00 181.36 L488.30 181.00 L488.60 180.65 L488.90 180.29 L489.20 179.92 L489.50 179.56 L489.80 179.20 L490.10 178.84 L490.40 178.48 L490.70 178.12 L491.00 177.76 L491.30 177.40 L491.60 177.04 L491.90 176.68 L492.20 176.31 L492.50 175.95 L492.80 175.59 L493.10 175.22 L493.40 174.86 L493.70 174.50 L494.00 174.14 L494.30 173.80 L494.60 173.46 L494.90 173.13 L495.20 172.79 L495.50 172.45 L495.80 172.10 L496.10 171.74 L496.40 171.36 L496.70 170.97 L497.00 170.55 L497.30 170.11 L497.60 169.68 L497.90 169.24 L498.20 168.77 L498.50 168.27 L498.80 167.72 L499.10 167.10 L499.40 166.40 L499.70 165.60 L500.00 164.25 L500.30 162.40 L500.60 160.82 L500.90 160.19 L501.20 159.90 L501.50 159.64 L501.80 159.41 L502.10 159.22 L502.40 159.07 L502.70 158.95 L503.00 158.87 L503.30 158.82 L503.60 158.80 L503.90 158.91 L504.20 159.19 L504.50 159.51 L504.80 159.79 L505.10 159.90 L505.40 159.86 L505.70 159.75 L506.00 159.57 L506.30 159.34 L506.60 159.07 L506.90 158.76 L507.20 158.43 L507.50 158.09 L507.80 157.75 L508.10 157.41 L508.40 157.09 L508.70 156.80 L509.00 156.52 L509.30 156.24 L509.60 155.95 L509.90 155.66 L510.20 155.37 L510.50 155.07 L510.80 154.77 L511.10 154.48 L511.40 154.18 L511.70 153.88 L512.00 153.58 L512.30 153.29 L512.60 153.00 L512.90 152.71 L513.20 152.42 L513.50 152.13 L513.80 151.84 L514.10 151.56 L514.40 151.27 L514.70 150.99 L515.00 150.70 L515.30 150.42 L515.60 150.13 L515.90 149.85 L516.20 149.57 L516.50 149.29 L516.80 149.02 L517.10 148.74 L517.40 148.47 L517.70 148.19 L518.00 147.92 L518.30 147.65 L518.60 147.38 L518.90 147.11 L519.20 146.85 L519.50 146.58 L519.80 146.30 L520.10 146.03 L520.40 145.76 L520.70 145.48 L521.00 145.21 L521.30 144.92 L521.60 144.63 L521.90 144.34 L522.20 144.05 L522.50 143.75 L522.80 143.46 L523.10 143.17 L523.40 142.88 L523.70 142.60 L524.00 142.33 L524.30 142.07 L524.60 141.82 L524.90 141.57 L525.20 141.33 L525.50 141.10 L525.80 140.87 L526.10 140.64 L526.40 140.42 L526.70 140.19 L527.00 139.98 L527.30 139.76 L527.60 139.55 L527.90 139.34 L528.20 139.13 L528.50 138.92 L528.80 138.71 L529.10 138.51 L529.40 138.30 L529.70 138.09 L530.00 137.89 L530.30 137.69 L530.60 137.49 L530.90 137.30 L531.20 137.10 L531.50 136.91 L531.80 136.72 L532.10 136.52 L532.40 136.33 L532.70 136.14 L533.00 135.95 L533.30 135.75 L533.60 135.56 L533.90 135.37 L534.20 135.17 L534.50 134.97 L534.80 134.77 L535.10 134.56 L535.40 134.36 L535.70 134.15 L536.00 133.95 L536.30 133.74 L536.60 133.54 L536.90 133.34 L537.20 133.14 L537.50 132.95 L537.80 132.75 L538.10 132.56 L538.40 132.38 L538.70 132.20 L539.00 132.02 L539.30 131.85 L539.60 131.68 L539.90 131.52 L540.20 131.35 L540.50 131.19 L540.80 131.03 L541.10 130.87 L541.40 130.71 L541.70 130.56 L542.00 130.41 L542.30 130.25 L542.60 130.10 L542.90 129.95 L543.20 129.80 L543.50 129.65 L543.80 129.50 L544.10 129.35 L544.40 129.20 L544.70 129.06 L545.00 128.91 L545.30 128.76 L545.60 128.62 L545.90 128.48 L546.20 128.34 L546.50 128.20 L546.80 128.06 L547.10 127.92 L547.40 127.79 L547.70 127.66 L548.00 127.53 L548.30 127.40 L548.60 127.27 L548.90 127.15 L549.20 127.03 L549.50 126.91 L549.80 126.79 L550.10 126.67 L550.40 126.55 L550.70 126.43 L551.00 126.32 L551.30 126.21 L551.60 126.09 L551.90 125.99 L552.20 125.88 L552.50 125.77 L552.80 125.67 L553.10 125.57 L553.40 125.47 L553.70 125.37 L554.00 125.27 L554.30 125.18 L554.60 125.08 L554.90 124.99 L555.20 124.90 L555.50 124.80 L555.80 124.71 L556.10 124.63 L556.40 124.54 L556.70 124.46 L557.00 124.37 L557.30 124.29 L557.60 124.21 L557.90 124.13 L558.20 124.05 L558.50 123.97 L558.80 123.90 L559.10 123.82 L559.40 123.75 L559.70 123.67 L560.00 123.60 L560.30 123.53 L560.60 123.45 L560.90 123.38 L561.20 123.32 L561.50 123.25 L561.80 123.18 L562.10 123.12 L562.40 123.06 L562.70 123.00 L563.00 122.94 L563.30 122.88 L563.60 122.83 L563.90 122.78 L564.20 122.73 L564.50 122.68 L564.80 122.63 L565.10 122.58 L565.40 122.53 L565.70 122.48 L566.00 122.43 L566.30 122.38 L566.60 122.33 L566.90 122.29 L567.20 122.25 L567.50 122.21 L567.80 122.18 L568.10 122.15 L568.40 122.13 L568.70 122.11 L569.00 122.10 L569.30 122.10 L569.60 122.10 L569.90 122.10 L570.20 122.10 L570.50 122.10 L570.80 122.10 L571.10 122.10 L571.40 122.10 L571.70 122.10 L572.00 122.10 L572.30 122.10 L572.60 122.10 L572.90 122.10 L573.20 122.10 L573.50 122.10 L573.80 122.10 L574.10 122.10 L574.40 122.10 L574.70 122.10 L575.00 122.10 L575.30 122.11 L575.60 122.13 L575.90 122.15 L576.20 122.18 L576.50 122.22 L576.80 122.25 L577.10 122.30 L577.40 122.35 L577.70 122.40 L578.00 122.46 L578.30 122.52 L578.60 122.59 L578.90 122.66 L579.20 122.73 L579.50 122.81 L579.80 122.89 L580.10 122.97 L580.40 123.06 L580.70 123.14 L581.00 123.23 L581.30 123.36 L581.60 123.52 L581.90 123.72 L582.20 123.93 L582.50 124.16 L582.80 124.38 L583.10 124.60 L583.40 124.80 L583.70 124.98 L584.00 125.12 L584.30 125.23 L584.60 125.32 L584.90 125.41 L585.20 125.49 L585.50 125.58 L585.80 125.68 L586.10 125.78 L586.40 125.88 L586.70 125.98 L587.00 126.09 L587.30 126.19 L587.60 126.30 L587.90 126.41 L588.20 126.52 L588.50 126.63 L588.80 126.74 L589.10 126.85 L589.40 126.97 L589.70 127.09 L590.00 127.21 L590.30 127.33 L590.60 127.45 L590.90 127.57 L591.20 127.70 L591.50 127.82 L591.80 127.95 L592.10 128.08 L592.40 128.21 L592.70 128.35 L593.00 128.48 L593.30 128.62 L593.60 128.76 L593.90 128.91 L594.20 129.05 L594.50 129.20 L594.80 129.35 L595.10 129.50 L595.40 129.65 L595.70 129.81 L596.00 129.96 L596.30 130.12 L596.60 130.28 L596.90 130.44 L597.20 130.60 L597.50 130.77 L597.80 130.93 L598.10 131.10 L598.40 131.26 L598.70 131.43 L599.00 131.61 L599.30 131.78 L599.60 131.95 L599.90 132.13 L600.20 132.31 L600.50 132.48 L600.80 132.67 L601.10 132.85 L601.40 133.04 L601.70 133.22 L602.00 133.41 L602.30 133.60 L602.60 133.80 L602.90 133.99 L603.20 134.19 L603.50 134.38 L603.80 134.58 L604.10 134.78 L604.40 134.98 L604.70 135.18 L605.00 135.39 L605.30 135.59 L605.60 135.80 L605.90 136.01 L606.20 136.22 L606.50 136.43 L606.80 136.65 L607.10 136.86 L607.40 137.08 L607.70 137.30 L608.00 137.52 L608.30 137.74 L608.60 137.96 L608.90 138.18 L609.20 138.41 L609.50 138.63 L609.80 138.86 L610.10 139.09 L610.40 139.32 L610.70 139.56 L611.00 139.79 L611.30 140.03 L611.60 140.26 L611.90 140.50 L612.20 140.74 L612.50 140.98 L612.80 141.23 L613.10 141.47 L613.40 141.72 L613.70 141.96 L614.00 142.21 L614.30 142.46 L614.60 142.71 L614.90 142.97 L615.20 143.22 L615.50 143.47 L615.80 143.73 L616.10 143.99 L616.40 144.25 L616.70 144.51 L617.00 144.77 L617.30 145.04 L617.60 145.30 L617.90 145.57 L618.20 145.84 L618.50 146.11 L618.80 146.38 L619.10 146.65 L619.40 146.92 L619.70 147.20 L620.00 147.47 L620.30 147.75 L620.60 148.03 L620.90 148.31 L621.20 148.59 L621.50 148.87 L621.80 149.15 L622.10 149.44 L622.40 149.72 L622.70 150.01 L623.00 150.30 L623.30 150.59 L623.60 150.88 L623.90 151.17 L624.20 151.47 L624.50 151.76 L624.80 152.06 L625.10 152.36 L625.40 152.66 L625.70 152.96 L626.00 153.26 L626.30 153.56 L626.60 153.86 L626.90 154.17 L627.20 154.47 L627.50 154.78 L627.80 155.09 L628.10 155.40 L628.40 155.71 L628.70 156.02 L629.00 156.33 L629.30 156.65 L629.60 156.96 L629.90 157.28 L630.20 157.60 L630.50 157.91 L630.80 158.23 L631.10 158.55 L631.40 158.88 L631.70 159.20 L632.00 159.52 L632.30 159.85 L632.60 160.17 L632.90 160.50 L633.20 160.83 L633.50 161.16 L633.80 161.49 L634.10 161.82 L634.40 162.15 L634.70 162.49 L635.00 162.82 L635.30 163.16 L635.60 163.49 L635.90 163.83 L636.20 164.17 L636.50 164.51 L636.80 164.85 L637.10 165.19 L637.40 165.53 L637.70 165.88 L638.00 166.22 L638.30 166.57 L638.60 166.91 L638.90 167.26 L639.20 167.61 L639.50 167.96 L639.80 168.31 L640.10 168.66 L640.40 169.01 L640.70 169.36 L641.00 169.72 L641.30 170.07 L641.60 170.43 L641.90 170.78 L642.20 171.14 L642.50 171.50 L642.80 171.85 L643.10 172.21 L643.40 172.57 L643.70 172.94 L644.00 173.30 L644.30 173.66 L644.60 174.02 L644.90 174.39 L645.20 174.75 L645.50 175.12 L645.80 175.49 L646.10 175.85 L646.40 176.22 L646.70 176.59 L647.00 176.96 L647.30 177.33 L647.60 177.70 L647.90 178.07 L648.20 178.44 L648.50 178.82 L648.80 179.19 L649.10 179.57 L649.40 179.94 L649.70 180.32 L650.00 180.69 L650.30 181.07 L650.60 181.45 L650.90 181.83 L651.20 182.20 L651.50 182.58 L651.80 182.96 L652.10 183.35 L652.40 183.73 L652.70 184.11 L653.00 184.49 L653.30 184.87 L653.60 185.26 L653.90 185.64 L654.20 186.03 L654.50 186.41 L654.80 186.80 L655.10 187.18 L655.40 187.57 L655.70 187.96 L656.00 188.35 L656.30 188.74 L656.60 189.12 L656.90 189.51 L657.20 189.90 L657.50 190.29 L657.80 190.69 L658.10 191.08 L658.40 191.47 L658.70 191.86 L659.00 192.25 L659.30 192.65 L659.60 193.04 L659.90 193.43 L660.20 193.83 L660.50 194.22 L660.80 194.62 L661.10 195.01 L661.40 195.41 L661.70 195.81 L662.00 196.20 L662.30 196.60 L662.60 197.00 L662.90 197.39 L663.20 197.79 L663.50 198.19 L663.80 198.59 L664.10 198.99 L664.40 199.39 L664.70 199.79 L665.00 200.19 L665.30 200.59 L665.60 200.99 L665.90 201.39 L666.20 201.79 L666.50 202.19 L666.80 202.59 L667.10 203.00 L667.40 203.40 L667.70 203.80 L668.00 204.20 L668.30 204.61 L668.60 205.01 L668.90 205.41 L669.20 205.82 L669.50 206.22 L669.80 206.63 L670.10 207.03 L670.40 207.44 L670.70 207.84 L671.00 208.25 L671.30 208.65 L671.60 209.06 L671.90 209.46 L672.20 209.87 L672.50 210.27 L672.80 210.68 L673.10 211.09 L673.40 211.49 L673.70 211.90 L674.00 212.31 L674.30 212.72 L674.60 213.12 L674.90 213.53 L675.20 213.94 L675.50 214.35 L675.80 214.75 L676.10 215.16 L676.40 215.57 L676.70 215.98 L677.00 216.39 L677.30 216.80 L677.60 217.21 L677.90 217.62 L678.20 218.02 L678.50 218.43 L678.80 218.84 L679.10 219.25 L679.40 219.66 L679.70 220.07 L680.00 220.48 L680.30 220.89 L680.60 221.31 L680.90 221.72 L681.20 222.13 L681.50 222.54 L681.80 222.95 L682.10 223.36 L682.40 223.77 L682.70 224.18 L683.00 224.60 L683.30 225.01 L683.60 225.42 L683.90 225.83 L684.20 226.24 L684.50 226.66 L684.80 227.07 L685.10 227.48 L685.40 227.90 L685.70 228.31 L686.00 228.72 L686.30 229.14 L686.60 229.55 L686.90 229.97 L687.20 230.38 L687.50 230.79 L687.80 231.21 L688.10 231.62 L688.40 232.04 L688.70 232.45 L689.00 232.87 L689.30 233.29 L689.60 233.72 L689.90 234.14 L690.20 234.55 L690.50 234.95 L690.80 235.33 L691.10 235.68 L691.20 235.80" stroke="#0000ff" stroke-width="1.9" stroke-dasharray="1.7 3.6" stroke-dashoffset="0.00"/>
<path d="M384.60 287.80 L385.00 287.30 L385.40 286.81 L385.80 286.31 L386.20 285.82 L386.60 285.32 L387.00 284.83 L387.40 284.33 L387.80 283.84 L388.20 283.34 L388.60 282.85 L389.00 282.35 L389.40 281.86 L389.80 281.36 L390.20 280.87 L390.60 280.37 L391.00 279.88 L391.40 279.38 L391.80 278.89 L392.20 278.40 L392.60 277.90 L393.00 277.41 L393.40 276.91 L393.80 276.42 L394.20 275.92 L394.60 275.43 L395.00 274.93 L395.40 274.44 L395.80 273.94 L396.20 273.45 L396.60 272.95 L397.00 272.45 L397.40 271.94 L397.80 271.43 L398.20 270.92 L398.60 270.41 L399.00 269.90 L399.40 269.39 L399.80 268.89 L400.20 268.39 L400.60 267.91 L401.00 267.43 L401.40 266.96 L401.80 266.51 L402.20 266.07 L402.60 265.66 L403.00 265.25 L403.40 264.86 L403.80 264.48 L404.20 264.10 L404.60 263.72 L405.00 263.34 L405.40 262.95 L405.80 262.55 L406.20 262.14 L406.60 261.71 L407.00 261.26 L407.40 260.79 L407.80 260.30 L408.20 259.80 L408.60 259.29 L409.00 258.78 L409.40 258.26 L409.80 257.74 L410.20 257.22 L410.60 256.71 L411.00 256.21 L411.40 255.72 L411.80 255.25 L412.20 254.78 L412.60 254.33 L413.00 253.88 L413.40 253.44 L413.80 252.99 L414.20 252.55 L414.60 252.11 L415.00 251.67 L415.40 251.22 L415.80 250.77 L416.20 250.31 L416.60 249.84 L417.00 249.36 L417.40 248.86 L417.80 248.36 L418.20 247.85 L418.60 247.32 L419.00 246.80 L419.40 246.27 L419.80 245.74 L420.20 245.21 L420.60 244.68 L421.00 244.16 L421.40 243.65 L421.80 243.14 L422.20 242.64 L422.60 242.16 L423.00 241.69 L423.40 241.22 L423.80 240.76 L424.20 240.31 L424.60 239.86 L425.00 239.41 L425.40 238.96 L425.80 238.51 L426.20 238.06 L426.60 237.60 L427.00 237.13 L427.40 236.66 L427.80 236.19 L428.20 235.71 L428.60 235.22 L429.00 234.74 L429.40 234.25 L429.80 233.76 L430.20 233.27 L430.60 232.77 L431.00 232.28 L431.40 231.79 L431.80 231.30 L432.20 230.81 L432.60 230.32 L433.00 229.84 L433.40 229.36 L433.80 228.88 L434.20 228.40 L434.60 227.92 L435.00 227.44 L435.40 226.96 L435.80 226.49 L436.20 226.01 L436.60 225.54 L437.00 225.07 L437.40 224.60 L437.80 224.13 L438.20 223.67 L438.60 223.21 L439.00 222.74 L439.40 222.28 L439.80 221.83 L440.20 221.37 L440.60 220.91 L441.00 220.46 L441.40 220.01 L441.80 219.56 L442.20 219.11 L442.60 218.66 L443.00 218.21 L443.40 217.77 L443.80 217.32 L444.20 216.88 L444.60 216.44 L445.00 216.00 L445.40 215.56 L445.80 215.13 L446.20 214.69 L446.60 214.26 L447.00 213.83 L447.40 213.40 L447.80 212.97 L448.20 212.54 L448.60 212.11 L449.00 211.69 L449.40 211.26 L449.80 210.82 L450.20 210.39 L450.60 209.95 L451.00 209.52 L451.40 209.08 L451.80 208.65 L452.20 208.22 L452.60 207.80 L453.00 207.38 L453.40 206.97 L453.80 206.57 L454.20 206.17 L454.60 205.79 L455.00 205.41 L455.40 205.05 L455.80 204.70 L456.20 204.35 L456.60 204.01 L457.00 203.67 L457.40 203.34 L457.80 203.01 L458.20 202.68 L458.60 202.35 L459.00 202.03 L459.40 201.70 L459.80 201.37 L460.20 201.03 L460.60 200.69 L461.00 200.34 L461.40 199.99 L461.80 199.65 L462.20 199.30 L462.60 198.96 L463.00 198.63 L463.40 198.31 L463.80 197.99 L464.20 197.69 L464.60 197.40 L465.00 197.13 L465.40 196.88 L465.80 196.64 L466.20 196.42 L466.60 196.20 L467.00 195.99 L467.40 195.79 L467.80 195.59 L468.20 195.40 L468.60 195.22 L469.00 195.04 L469.40 194.87 L469.80 194.70 L470.20 194.53 L470.60 194.37 L471.00 194.22 L471.40 194.07 L471.80 193.92 L472.20 193.77 L472.60 193.63 L473.00 193.49 L473.40 193.35 L473.80 193.21 L474.20 193.07 L474.60 192.93 L475.00 192.80 L475.40 192.67 L475.80 192.54 L476.20 192.42 L476.60 192.30 L477.00 192.18 L477.40 192.07 L477.80 191.96 L478.20 191.86 L478.60 191.77 L479.00 191.68 L479.40 191.59 L479.80 191.52 L480.20 191.45 L480.60 191.38 L481.00 191.32 L481.40 191.27 L481.80 191.21 L482.20 191.16 L482.60 191.11 L483.00 191.06 L483.40 191.02 L483.80 190.97 L484.20 190.93 L484.60 190.89 L485.00 190.84 L485.40 190.80 L485.80 190.76 L486.20 190.71 L486.60 190.67 L487.00 190.62 L487.40 190.57 L487.80 190.51 L488.20 190.46 L488.60 190.40 L489.00 190.34 L489.40 190.28 L489.80 190.21 L490.20 190.15 L490.60 190.08 L491.00 190.01 L491.40 189.95 L491.80 189.88 L492.20 189.81 L492.60 189.74 L493.00 189.68 L493.40 189.62 L493.80 189.55 L494.20 189.49 L494.60 189.43 L495.00 189.38 L495.40 189.33 L495.80 189.28 L496.20 189.23 L496.60 189.18 L497.00 189.14 L497.40 189.10 L497.80 189.06 L498.20 189.02 L498.60 188.98 L499.00 188.94 L499.40 188.90 L499.80 188.87 L500.20 188.83 L500.60 188.79 L501.00 188.75 L501.40 188.71 L501.80 188.67 L502.20 188.63 L502.60 188.58 L503.00 188.54 L503.40 188.49 L503.80 188.43 L504.20 188.37 L504.60 188.30 L505.00 188.22 L505.40 188.15 L505.80 188.07 L506.20 187.98 L506.60 187.90 L507.00 187.82 L507.40 187.74 L507.80 187.66 L508.20 187.59 L508.60 187.52 L509.00 187.46 L509.40 187.41 L509.80 187.37 L510.20 187.33 L510.60 187.31 L511.00 187.30 L511.40 187.30 L511.80 187.32 L512.20 187.34 L512.60 187.37 L513.00 187.41 L513.40 187.46 L513.80 187.52 L514.20 187.58 L514.60 187.65 L515.00 187.73 L515.40 187.81 L515.80 187.89 L516.20 187.98 L516.60 188.07 L517.00 188.16 L517.40 188.25 L517.80 188.34 L518.20 188.44 L518.60 188.53 L519.00 188.62 L519.40 188.72 L519.80 188.82 L520.20 188.93 L520.60 189.05 L521.00 189.17 L521.40 189.30 L521.80 189.44 L522.20 189.58 L522.60 189.72 L523.00 189.87 L523.40 190.03 L523.80 190.19 L524.20 190.35 L524.60 190.52 L525.00 190.69 L525.40 190.86 L525.80 191.04 L526.20 191.22 L526.60 191.40 L527.00 191.59 L527.40 191.79 L527.80 192.00 L528.20 192.21 L528.60 192.44 L529.00 192.68 L529.40 192.92 L529.80 193.16 L530.20 193.42 L530.60 193.67 L531.00 193.93 L531.40 194.20 L531.80 194.46 L532.20 194.73 L532.60 195.00 L533.00 195.27 L533.40 195.54 L533.80 195.81 L534.20 196.08 L534.60 196.36 L535.00 196.63 L535.40 196.92 L535.80 197.21 L536.20 197.50 L536.60 197.80 L537.00 198.10 L537.40 198.42 L537.80 198.74 L538.20 199.06 L538.60 199.40 L539.00 199.75 L539.40 200.11 L539.80 200.48 L540.20 200.88 L540.60 201.30 L541.00 201.74 L541.40 202.20 L541.80 202.66 L542.20 203.14 L542.60 203.62 L543.00 204.10 L543.40 204.59 L543.80 205.06 L544.20 205.53 L544.60 205.99 L545.00 206.43 L545.40 206.88 L545.80 207.32 L546.20 207.75 L546.60 208.19 L547.00 208.62 L547.40 209.06 L547.80 209.49 L548.20 209.93 L548.60 210.37 L549.00 210.80 L549.40 211.25 L549.80 211.69 L550.20 212.13 L550.60 212.58 L551.00 213.03 L551.40 213.47 L551.80 213.92 L552.20 214.37 L552.60 214.82 L553.00 215.27 L553.40 215.73 L553.80 216.18 L554.20 216.65 L554.60 217.11 L555.00 217.58 L555.40 218.05 L555.80 218.52 L556.20 218.99 L556.60 219.46 L557.00 219.93 L557.40 220.40 L557.80 220.88 L558.20 221.37 L558.60 221.87 L559.00 222.38 L559.40 222.90 L559.80 223.44 L560.20 224.00 L560.60 224.59 L561.00 225.21 L561.40 225.87 L561.80 226.55 L562.20 227.23 L562.60 227.92 L563.00 228.61 L563.40 229.28 L563.80 229.93 L564.20 230.55 L564.60 231.15 L565.00 231.74 L565.40 232.31 L565.80 232.88 L566.20 233.44 L566.60 233.99 L567.00 234.54 L567.40 235.10 L567.80 235.66 L568.20 236.23 L568.60 236.81 L569.00 237.40 L569.40 237.99 L569.80 238.60 L570.20 239.21 L570.60 239.82 L571.00 240.44 L571.40 241.05 L571.80 241.67 L572.20 242.28 L572.60 242.89 L573.00 243.50 L573.40 244.10 L573.80 244.70 L574.20 245.30 L574.60 245.89 L575.00 246.49 L575.40 247.08 L575.80 247.67 L576.20 248.27 L576.60 248.86 L577.00 249.46 L577.40 250.05 L577.80 250.65 L578.20 251.24 L578.60 251.84 L579.00 252.43 L579.40 253.02 L579.80 253.62 L580.20 254.22 L580.60 254.82 L581.00 255.43 L581.40 256.04 L581.80 256.67 L582.20 257.29 L582.60 257.91 L583.00 258.54 L583.40 259.17 L583.80 259.81 L584.20 260.45 L584.60 261.10 L585.00 261.76 L585.40 262.43 L585.80 263.11 L586.20 263.80 L586.60 264.51 L587.00 265.23 L587.40 265.96 L587.80 266.71 L588.20 267.47 L588.60 268.24 L589.00 269.01 L589.40 269.80 L589.80 270.60 L590.20 271.43 L590.60 272.29 L591.00 273.16 L591.40 274.04 L591.80 274.91 L592.20 275.77 L592.60 276.60 L593.00 277.41 L593.40 278.17 L593.80 278.91 L594.20 279.62 L594.60 280.32 L595.00 281.01 L595.40 281.69 L595.80 282.37 L596.20 283.04 L596.60 283.73 L597.00 284.43 L597.40 285.14 L597.80 285.87 L598.20 286.63 L598.60 287.40 L599.00 288.18 L599.40 288.96 L599.80 289.73 L600.20 290.48 L600.60 291.20 L601.00 291.89 L601.40 292.57 L601.80 293.22 L602.20 293.86 L602.60 294.51 L603.00 295.15 L603.40 295.80 L603.80 296.46 L604.20 297.14 L604.60 297.83 L605.00 298.52 L605.40 299.22 L605.80 299.92 L606.20 300.62 L606.60 301.33 L607.00 302.04 L607.40 302.76 L607.80 303.48 L608.20 304.21 L608.60 304.94 L609.00 305.68 L609.40 306.43 L609.60 306.80" stroke="#ff0000" stroke-width="1.7" stroke-dasharray="8.2 7.6" stroke-dashoffset="4.27"/>
</g>
<path d="M129.80 190.90 V202.30 M125.90 190.90 H133.70 M125.90 202.30 H133.70" stroke="#000" stroke-width="1.35" fill="none"/>
<circle cx="129.80" cy="196.10" r="4.50" fill="#000"/>
<circle cx="176.55" cy="154.30" r="4.20" fill="#000"/>
<circle cx="232.40" cy="74.80" r="4.20" fill="#000"/>
<circle cx="264.80" cy="51.50" r="4.10" fill="#000"/>
<path d="M428.90 222.20 V250.30 M425.40 222.20 H432.40 M425.40 250.30 H432.40" stroke="#000" stroke-width="1.35" fill="none"/>
<circle cx="428.90" cy="233.70" r="4.20" fill="#000"/>
<path d="M475.90 165.80 V174.20 M472.30 165.80 H479.50 M472.30 174.20 H479.50" stroke="#000" stroke-width="1.35" fill="none"/>
<circle cx="475.90" cy="169.85" r="4.35" fill="#000"/>
<path d="M531.10 122.65 V130.70 M527.60 122.65 H534.60 M527.60 130.70 H534.60" stroke="#000" stroke-width="1.35" fill="none"/>
<circle cx="531.10" cy="126.70" r="4.15" fill="#000"/>
<path d="M564.00 119.85 V128.00 M560.40 119.85 H567.60 M560.40 128.00 H567.60" stroke="#000" stroke-width="1.35" fill="none"/>
<circle cx="564.00" cy="123.90" r="4.15" fill="#000"/>
<g stroke="#000" fill="none" stroke-linecap="butt">
<rect x="85.50" y="14.00" width="609.40" height="283.20" stroke-width="1.65"/>
<line x1="390.20" y1="14.00" x2="390.20" y2="297.20" stroke-width="1.75"/>
<path d="M87.54 14.00 v2.90 M87.54 297.20 v-2.90 M97.34 14.00 v2.90 M97.34 297.20 v-2.90 M105.82 14.00 v2.90 M105.82 297.20 v-2.90 M113.31 14.00 v2.90 M113.31 297.20 v-2.90 M120.00 14.00 v5.70 M120.00 297.20 v-5.70 M164.04 14.00 v2.90 M164.04 297.20 v-2.90 M189.80 14.00 v2.90 M189.80 297.20 v-2.90 M208.08 14.00 v2.90 M208.08 297.20 v-2.90 M222.26 14.00 v2.90 M222.26 297.20 v-2.90 M233.84 14.00 v2.90 M233.84 297.20 v-2.90 M243.64 14.00 v2.90 M243.64 297.20 v-2.90 M252.12 14.00 v2.90 M252.12 297.20 v-2.90 M259.61 14.00 v2.90 M259.61 297.20 v-2.90 M266.30 14.00 v5.70 M266.30 297.20 v-5.70 M310.34 14.00 v2.90 M310.34 297.20 v-2.90 M336.10 14.00 v2.90 M336.10 297.20 v-2.90 M354.38 14.00 v2.90 M354.38 297.20 v-2.90 M368.56 14.00 v2.90 M368.56 297.20 v-2.90 M380.14 14.00 v2.90 M380.14 297.20 v-2.90 M392.44 14.00 v2.90 M392.44 297.20 v-2.90 M402.24 14.00 v2.90 M402.24 297.20 v-2.90 M410.72 14.00 v2.90 M410.72 297.20 v-2.90 M418.21 14.00 v2.90 M418.21 297.20 v-2.90 M424.90 14.00 v5.70 M424.90 297.20 v-5.70 M468.94 14.00 v2.90 M468.94 297.20 v-2.90 M494.70 14.00 v2.90 M494.70 297.20 v-2.90 M512.98 14.00 v2.90 M512.98 297.20 v-2.90 M527.16 14.00 v2.90 M527.16 297.20 v-2.90 M538.74 14.00 v2.90 M538.74 297.20 v-2.90 M548.54 14.00 v2.90 M548.54 297.20 v-2.90 M557.02 14.00 v2.90 M557.02 297.20 v-2.90 M564.51 14.00 v2.90 M564.51 297.20 v-2.90 M571.20 14.00 v5.70 M571.20 297.20 v-5.70 M615.24 14.00 v2.90 M615.24 297.20 v-2.90 M641.00 14.00 v2.90 M641.00 297.20 v-2.90 M659.28 14.00 v2.90 M659.28 297.20 v-2.90 M673.46 14.00 v2.90 M673.46 297.20 v-2.90 M685.04 14.00 v2.90 M685.04 297.20 v-2.90 M85.50 285.29 h2.90 M387.30 285.29 h5.80 M694.90 285.29 h-2.90 M85.50 276.13 h2.90 M387.30 276.13 h5.80 M694.90 276.13 h-2.90 M85.50 268.65 h2.90 M387.30 268.65 h5.80 M694.90 268.65 h-2.90 M85.50 262.33 h2.90 M387.30 262.33 h5.80 M694.90 262.33 h-2.90 M85.50 256.85 h2.90 M387.30 256.85 h5.80 M694.90 256.85 h-2.90 M85.50 252.02 h2.90 M387.30 252.02 h5.80 M694.90 252.02 h-2.90 M85.50 247.70 h5.70 M384.50 247.70 h11.40 M694.90 247.70 h-5.70 M85.50 219.27 h2.90 M387.30 219.27 h5.80 M694.90 219.27 h-2.90 M85.50 202.64 h2.90 M387.30 202.64 h5.80 M694.90 202.64 h-2.90 M85.50 190.84 h2.90 M387.30 190.84 h5.80 M694.90 190.84 h-2.90 M85.50 181.68 h2.90 M387.30 181.68 h5.80 M694.90 181.68 h-2.90 M85.50 174.20 h2.90 M387.30 174.20 h5.80 M694.90 174.20 h-2.90 M85.50 167.88 h2.90 M387.30 167.88 h5.80 M694.90 167.88 h-2.90 M85.50 162.40 h2.90 M387.30 162.40 h5.80 M694.90 162.40 h-2.90 M85.50 157.57 h2.90 M387.30 157.57 h5.80 M694.90 157.57 h-2.90 M85.50 153.25 h5.70 M384.50 153.25 h11.40 M694.90 153.25 h-5.70 M85.50 124.82 h2.90 M387.30 124.82 h5.80 M694.90 124.82 h-2.90 M85.50 108.19 h2.90 M387.30 108.19 h5.80 M694.90 108.19 h-2.90 M85.50 96.39 h2.90 M387.30 96.39 h5.80 M694.90 96.39 h-2.90 M85.50 87.23 h2.90 M387.30 87.23 h5.80 M694.90 87.23 h-2.90 M85.50 79.75 h2.90 M387.30 79.75 h5.80 M694.90 79.75 h-2.90 M85.50 73.43 h2.90 M387.30 73.43 h5.80 M694.90 73.43 h-2.90 M85.50 67.95 h2.90 M387.30 67.95 h5.80 M694.90 67.95 h-2.90 M85.50 63.12 h2.90 M387.30 63.12 h5.80 M694.90 63.12 h-2.90 M85.50 58.80 h5.70 M384.50 58.80 h11.40 M694.90 58.80 h-5.70 M85.50 30.37 h2.90 M387.30 30.37 h5.80 M694.90 30.37 h-2.90" stroke-width="1.5"/>
</g>
<g fill="none" stroke="#000" stroke-linecap="round" stroke-linejoin="round">
<path d="M46.80 65.00 L46.80 54.33 L45.12 55.86 L44.00 56.36 M53.50 59.41 L54.06 56.36 L55.18 54.84 L56.86 54.33 L57.98 54.33 L59.65 54.84 L60.77 56.36 L61.33 58.90 L61.33 60.43 L60.77 62.97 L59.65 64.49 L57.98 65.00 L56.86 65.00 L55.18 64.49 L54.06 62.97 L53.50 59.92 M53.50 58.90 L53.50 60.43 M65.80 63.98 L66.36 64.49 L65.80 65.00 L65.24 64.49 L65.80 63.98 M70.27 59.41 L70.83 56.36 L71.95 54.84 L73.63 54.33 L74.75 54.33 L76.42 54.84 L77.54 56.36 L78.10 58.90 L78.10 60.43 L77.54 62.97 L76.42 64.49 L74.75 65.00 L73.63 65.00 L71.95 64.49 L70.83 62.97 L70.27 59.92 M70.27 58.90 L70.27 60.43" stroke-width="1.60"/>
<path d="M57.82 159.45 L57.82 148.78 L56.13 150.31 L55.00 150.81 M65.70 158.43 L66.27 158.94 L65.70 159.45 L65.14 158.94 L65.70 158.43 M70.21 153.86 L70.78 150.81 L71.90 149.29 L73.59 148.78 L74.72 148.78 L76.41 149.29 L77.54 150.81 L78.10 153.35 L78.10 154.88 L77.54 157.42 L76.41 158.94 L74.72 159.45 L73.59 159.45 L71.90 158.94 L70.78 157.42 L70.21 154.37 M70.21 153.35 L70.21 154.88" stroke-width="1.60"/>
<path d="M52.90 248.51 L53.48 245.46 L54.65 243.94 L56.41 243.43 L57.57 243.43 L59.33 243.94 L60.49 245.46 L61.08 248.00 L61.08 249.53 L60.49 252.07 L59.33 253.59 L57.57 254.10 L56.41 254.10 L54.65 253.59 L53.48 252.07 L52.90 249.02 M52.90 248.00 L52.90 249.53 M65.75 253.08 L66.34 253.59 L65.75 254.10 L65.17 253.59 L65.75 253.08 M75.10 254.10 L75.10 243.43 L73.35 244.96 L72.18 245.46" stroke-width="1.60"/>
<path d="M114.86 317.30 L114.86 306.63 L113.20 308.16 L112.10 308.66 M121.48 311.71 L122.03 308.66 L123.13 307.14 L124.79 306.63 L125.89 306.63 L127.55 307.14 L128.65 308.66 L129.20 311.20 L129.20 312.73 L128.65 315.27 L127.55 316.79 L125.89 317.30 L124.79 317.30 L123.13 316.79 L122.03 315.27 L121.48 312.22 M121.48 311.20 L121.48 312.73" stroke-width="1.60"/>
<path d="M253.55 317.30 L253.55 306.63 L251.90 308.16 L250.80 308.66 M260.17 311.71 L260.72 308.66 L261.82 307.14 L263.47 306.63 L264.57 306.63 L266.23 307.14 L267.33 308.66 L267.88 311.20 L267.88 312.73 L267.33 315.27 L266.23 316.79 L264.57 317.30 L263.47 317.30 L261.82 316.79 L260.72 315.27 L260.17 312.22 M260.17 311.20 L260.17 312.73 M271.19 311.71 L271.74 308.66 L272.84 307.14 L274.49 306.63 L275.59 306.63 L277.25 307.14 L278.35 308.66 L278.90 311.20 L278.90 312.73 L278.35 315.27 L277.25 316.79 L275.59 317.30 L274.49 317.30 L272.84 316.79 L271.74 315.27 L271.19 312.22 M271.19 311.20 L271.19 312.73" stroke-width="1.60"/>
<path d="M419.84 317.30 L419.84 306.63 L418.20 308.16 L417.10 308.66 M426.42 311.71 L426.97 308.66 L428.07 307.14 L429.71 306.63 L430.81 306.63 L432.45 307.14 L433.55 308.66 L434.10 311.20 L434.10 312.73 L433.55 315.27 L432.45 316.79 L430.81 317.30 L429.71 317.30 L428.07 316.79 L426.97 315.27 L426.42 312.22 M426.42 311.20 L426.42 312.73" stroke-width="1.60"/>
<path d="M558.55 317.30 L558.55 306.63 L556.90 308.16 L555.80 308.66 M565.17 311.71 L565.72 308.66 L566.82 307.14 L568.47 306.63 L569.57 306.63 L571.23 307.14 L572.33 308.66 L572.88 311.20 L572.88 312.73 L572.33 315.27 L571.23 316.79 L569.57 317.30 L568.47 317.30 L566.82 316.79 L565.72 315.27 L565.17 312.22 M565.17 311.20 L565.17 312.73 M576.19 311.71 L576.74 308.66 L577.84 307.14 L579.49 306.63 L580.59 306.63 L582.25 307.14 L583.35 308.66 L583.90 311.20 L583.90 312.73 L583.35 315.27 L582.25 316.79 L580.59 317.30 L579.49 317.30 L577.84 316.79 L576.74 315.27 L576.19 312.22 M576.19 311.20 L576.19 312.73" stroke-width="1.60"/>
<path d="M351.28 34.62 L350.14 35.70 L349.00 37.30 L347.87 39.44 L347.30 42.12 L347.30 44.26 L347.87 46.93 L349.00 49.07 L350.14 50.67 L351.28 51.74 M361.50 40.51 L361.50 48.00 M361.50 42.12 L360.36 41.05 L359.23 40.51 L357.52 40.51 L356.39 41.05 L355.25 42.12 L354.68 43.72 L354.68 44.79 L355.25 46.40 L356.39 47.47 L357.52 48.00 L359.23 48.00 L360.36 47.47 L361.50 46.40 M365.47 34.62 L366.61 35.70 L367.75 37.30 L368.88 39.44 L369.45 42.12 L369.45 44.26 L368.88 46.93 L367.75 49.07 L366.61 50.67 L365.47 51.74" stroke-width="1.60"/>
<path d="M656.28 34.62 L655.14 35.70 L654.00 37.30 L652.87 39.44 L652.30 42.12 L652.30 44.26 L652.87 46.93 L654.00 49.07 L655.14 50.67 L656.28 51.74 M660.25 36.77 L660.25 48.00 M660.25 42.12 L661.39 41.05 L662.52 40.51 L664.23 40.51 L665.36 41.05 L666.50 42.12 L667.07 43.72 L667.07 44.79 L666.50 46.40 L665.36 47.47 L664.23 48.00 L662.52 48.00 L661.39 47.47 L660.25 46.40 M670.47 34.62 L671.61 35.70 L672.75 37.30 L673.88 39.44 L674.45 42.12 L674.45 44.26 L673.88 46.93 L672.75 49.07 L671.61 50.67 L670.47 51.74" stroke-width="1.60"/>
<path d="M99.15 38.90 L99.15 30.39 L105.13 30.39 M99.15 34.45 L102.83 34.45 M110.66 38.90 L110.66 30.39 L109.28 31.61 L108.36 32.02 M118.02 33.63 L117.10 33.23 L116.64 32.42 L116.64 31.61 L117.10 30.80 L118.48 30.39 L120.32 30.39 L121.70 30.80 L122.17 31.61 L122.17 32.42 L121.70 33.23 L120.78 33.63 L117.56 34.45 L116.64 35.25 L116.18 36.06 L116.18 37.28 L116.64 38.09 L117.10 38.49 L118.48 38.90 L120.32 38.90 L121.70 38.49 L122.17 38.09 L122.63 37.28 L122.63 36.06 L122.17 35.25 L121.24 34.45 L118.02 33.63 M129.07 38.90 L129.07 30.39 L127.69 31.61 L126.77 32.02 M135.51 30.39 L140.58 30.39 L137.82 33.63 L139.20 33.63 L140.12 34.04 L140.58 34.45 L141.04 35.66 L141.04 36.47 L140.58 37.68 L139.66 38.49 L138.28 38.90 L136.90 38.90 L135.51 38.49 L135.05 38.09 L134.59 37.28 M147.48 38.90 L147.48 30.39 L146.10 31.61 L145.18 32.02 M157.61 31.61 L157.61 38.90 M153.47 35.25 L161.75 35.25 M165.43 34.45 L165.89 32.02 L166.81 30.80 L168.20 30.39 L169.12 30.39 L170.50 30.80 L170.96 31.61 M165.43 34.04 L165.43 36.06 L165.89 37.68 L166.81 38.49 L168.20 38.90 L168.66 38.90 L170.04 38.49 L170.96 37.68 L171.42 36.47 L171.42 36.06 L170.96 34.85 L170.04 34.04 L168.66 33.63 L168.20 33.63 L166.81 34.04 L165.89 34.85 L165.43 36.06 M176.02 33.63 L175.10 33.23 L174.64 32.42 L174.64 31.61 L175.10 30.80 L176.48 30.39 L178.32 30.39 L179.70 30.80 L180.16 31.61 L180.16 32.42 L179.70 33.23 L178.78 33.63 L175.56 34.45 L174.64 35.25 L174.18 36.06 L174.18 37.28 L174.64 38.09 L175.10 38.49 L176.48 38.90 L178.32 38.90 L179.70 38.49 L180.16 38.09 L180.62 37.28 L180.62 36.06 L180.16 35.25 L179.24 34.45 L176.02 33.63 M183.85 32.42 L183.85 32.02 L184.31 31.20 L184.77 30.80 L185.69 30.39 L187.53 30.39 L188.45 30.80 L188.91 31.20 L189.37 32.02 L189.37 32.82 L188.91 33.63 L187.99 34.85 L183.39 38.90 L189.83 38.90 M192.59 34.45 L193.05 32.02 L193.97 30.80 L195.35 30.39 L196.27 30.39 L197.66 30.80 L198.58 32.02 L199.04 34.04 L199.04 35.25 L198.58 37.28 L197.66 38.49 L196.27 38.90 L195.35 38.90 L193.97 38.49 L193.05 37.28 L192.59 34.85 M192.59 34.04 L192.59 35.25 M212.85 28.00 L211.92 28.90 L211.00 30.27 L210.08 32.08 L209.62 34.35 L209.62 36.16 L210.08 38.43 L211.00 40.24 L211.92 41.61 L212.85 42.51 M215.61 33.23 L220.67 33.23 L215.61 38.90 L220.67 38.90 M223.89 34.04 L232.18 34.04 M223.89 36.47 L232.18 36.47 M235.40 34.45 L235.86 32.02 L236.78 30.80 L238.16 30.39 L239.08 30.39 L240.46 30.80 L241.38 32.02 L241.84 34.04 L241.84 35.25 L241.38 37.28 L240.46 38.49 L239.08 38.90 L238.16 38.90 L236.78 38.49 L235.86 37.28 L235.40 34.85 M235.40 34.04 L235.40 35.25 M245.53 38.09 L245.99 38.49 L245.53 38.90 L245.07 38.49 L245.53 38.09 M249.21 34.45 L249.67 32.02 L250.59 30.80 L251.97 30.39 L252.89 30.39 L254.27 30.80 L255.19 32.02 L255.65 34.04 L255.65 35.25 L255.19 37.28 L254.27 38.49 L252.89 38.90 L251.97 38.90 L250.59 38.49 L249.67 37.28 L249.21 34.85 M249.21 34.04 L249.21 35.25 M258.88 32.42 L258.88 32.02 L259.34 31.20 L259.80 30.80 L260.72 30.39 L262.56 30.39 L263.48 30.80 L263.94 31.20 L264.40 32.02 L264.40 32.82 L263.94 33.63 L263.02 34.85 L258.42 38.90 L264.86 38.90 M271.30 38.90 L271.30 30.39 L269.92 31.61 L269.00 32.02 M276.83 28.00 L277.75 28.90 L278.67 30.27 L279.59 32.08 L280.05 34.35 L280.05 36.16 L279.59 38.43 L278.67 40.24 L277.75 41.61 L276.83 42.51" stroke-width="1.50"/>
<path d="M98.75 49.74 L98.75 58.25 M103.81 58.25 L103.81 54.20 L103.35 52.98 L102.43 52.58 L101.05 52.58 L100.13 52.98 L98.75 54.20 M107.49 53.80 L107.03 55.01 L107.03 55.82 L107.49 57.03 L108.41 57.84 L109.32 58.25 L110.70 58.25 L111.62 57.84 L112.54 57.03 L113.00 55.82 L113.00 55.01 L112.54 53.80 L111.62 52.98 L110.70 52.58 L109.32 52.58 L108.41 52.98 L107.49 53.80 M120.82 53.80 L120.36 52.98 L118.98 52.58 L117.60 52.58 L116.22 52.98 L115.76 53.80 L116.22 54.60 L117.14 55.01 L119.44 55.41 L120.36 55.82 L120.82 56.63 L120.82 57.03 L120.36 57.84 L118.98 58.25 L117.60 58.25 L116.22 57.84 L115.76 57.03 M124.50 49.74 L124.50 56.63 L124.96 57.84 L125.88 58.25 L126.80 58.25 M123.12 52.58 L126.34 52.58 M141.97 52.58 L141.97 59.06 L141.51 60.27 L141.05 60.68 L140.13 61.09 L138.75 61.09 L137.83 60.68 M141.97 53.80 L141.05 52.98 L140.13 52.58 L138.75 52.58 L137.83 52.98 L136.91 53.80 L136.45 55.01 L136.45 55.82 L136.91 57.03 L137.83 57.84 L138.75 58.25 L140.13 58.25 L141.05 57.84 L141.97 57.03 M150.70 52.58 L150.70 58.25 M150.70 53.80 L149.78 52.98 L148.86 52.58 L147.49 52.58 L146.57 52.98 L145.65 53.80 L145.19 55.01 L145.19 55.82 L145.65 57.03 L146.57 57.84 L147.49 58.25 L148.86 58.25 L149.78 57.84 L150.70 57.03 M154.38 49.74 L154.38 58.25 M163.12 52.58 L163.12 58.25 M163.12 53.80 L162.20 52.98 L161.28 52.58 L159.90 52.58 L158.98 52.98 L158.06 53.80 L157.60 55.01 L157.60 55.82 L158.06 57.03 L158.98 57.84 L159.90 58.25 L161.28 58.25 L162.20 57.84 L163.12 57.03 M166.34 52.58 L171.39 58.25 M171.39 52.58 L166.34 58.25 M173.69 52.58 L176.45 58.25 M179.21 52.58 L176.45 58.25 L175.53 59.87 L174.61 60.68 L173.69 61.09 L173.23 61.09 M181.97 53.39 L190.24 53.39 M181.97 55.82 L190.24 55.82 M195.30 53.39 L198.06 54.20 L198.98 54.60 L199.44 55.01 L199.90 55.82 L199.90 57.03 L198.98 57.84 L197.60 58.25 L195.76 58.25 L194.38 57.84 L193.46 57.03 M196.68 53.80 L194.38 52.98 L193.92 52.58 L193.46 51.77 L193.46 50.96 L194.38 50.15 L195.76 49.74 L197.60 49.74 L198.98 50.15 L199.90 50.96 M203.12 53.80 L207.26 53.80 L208.64 54.20 L209.09 54.60 L209.55 55.41 L209.55 56.63 L209.09 57.44 L208.64 57.84 L207.26 58.25 L203.12 58.25 L203.12 49.74 L207.26 49.74 L208.64 50.15 L209.09 50.55 L209.55 51.37 L209.55 52.17 L209.09 52.98 L208.64 53.39 L207.26 53.80 M212.77 51.77 L212.77 51.37 L213.23 50.55 L213.69 50.15 L214.61 49.74 L216.45 49.74 L217.37 50.15 L217.83 50.55 L218.29 51.37 L218.29 52.17 L217.83 52.98 L216.91 54.20 L212.31 58.25 L218.75 58.25" stroke-width="1.50"/>
<path d="M98.35 77.45 L101.98 68.95 L105.60 77.45 M99.71 74.62 L104.24 74.62 M114.22 70.97 L113.76 70.16 L112.86 69.35 L111.95 68.95 L110.14 68.95 L109.23 69.35 L108.32 70.16 L107.87 70.97 L107.42 72.19 L107.42 74.21 L107.87 75.42 L108.32 76.23 L109.23 77.05 L110.14 77.45 L111.95 77.45 L112.86 77.05 L113.76 76.23 L114.22 75.42 L114.22 74.21 L111.95 74.21 M117.39 77.45 L117.39 68.95 L123.74 77.45 L123.74 68.95 M134.62 67.33 L126.46 80.28 M139.15 68.95 L139.15 77.45 M135.98 68.95 L142.32 68.95 M144.59 73.00 L144.14 74.21 L144.14 75.02 L144.59 76.23 L145.50 77.05 L146.40 77.45 L147.76 77.45 L148.67 77.05 L149.58 76.23 L150.03 75.02 L150.03 74.21 L149.58 73.00 L148.67 72.19 L147.76 71.78 L146.40 71.78 L145.50 72.19 L144.59 73.00 M153.66 68.95 L153.66 75.83 L154.11 77.05 L155.02 77.45 L155.92 77.45 M152.30 71.78 L155.47 71.78 M163.63 71.78 L163.63 77.45 M163.63 73.00 L162.72 72.19 L161.82 71.78 L160.46 71.78 L159.55 72.19 L158.64 73.00 L158.19 74.21 L158.19 75.02 L158.64 76.23 L159.55 77.05 L160.46 77.45 L161.82 77.45 L162.72 77.05 L163.63 76.23 M167.26 68.95 L167.26 77.45 M170.88 72.59 L179.04 72.59 M170.88 75.02 L179.04 75.02 M182.22 73.00 L182.67 70.56 L183.58 69.35 L184.94 68.95 L185.84 68.95 L187.20 69.35 L188.11 70.56 L188.56 72.59 L188.56 73.81 L188.11 75.83 L187.20 77.05 L185.84 77.45 L184.94 77.45 L183.58 77.05 L182.67 75.83 L182.22 73.40 M182.22 72.59 L182.22 73.81 M192.19 76.64 L192.64 77.05 L192.19 77.45 L191.74 77.05 L192.19 76.64 M195.82 73.00 L196.27 70.56 L197.18 69.35 L198.54 68.95 L199.44 68.95 L200.80 69.35 L201.71 70.56 L202.16 72.59 L202.16 73.81 L201.71 75.83 L200.80 77.05 L199.44 77.45 L198.54 77.45 L197.18 77.05 L196.27 75.83 L195.82 73.40 M195.82 72.59 L195.82 73.81 M205.79 68.95 L210.78 68.95 L208.06 72.19 L209.42 72.19 L210.32 72.59 L210.78 73.00 L211.23 74.21 L211.23 75.02 L210.78 76.23 L209.87 77.05 L208.51 77.45 L207.15 77.45 L205.79 77.05 L205.34 76.64 L204.88 75.83 M218.48 77.45 L218.48 68.95 L213.95 74.62 L220.75 74.62" stroke-width="1.50"/>
<path d="M404.15 38.90 L404.15 30.39 L410.13 30.39 M404.15 34.45 L407.83 34.45 M415.66 38.90 L415.66 30.39 L414.28 31.61 L413.36 32.02 M422.10 30.39 L427.17 30.39 L424.40 33.63 L425.78 33.63 L426.70 34.04 L427.17 34.45 L427.63 35.66 L427.63 36.47 L427.17 37.68 L426.24 38.49 L424.86 38.90 L423.48 38.90 L422.10 38.49 L421.64 38.09 L421.18 37.28 M434.99 38.90 L434.99 30.39 L430.39 36.06 L437.29 36.06 M445.12 30.39 L440.51 30.39 L440.05 34.04 L440.51 33.63 L441.90 33.23 L443.28 33.23 L444.66 33.63 L445.58 34.45 L446.04 35.66 L446.04 36.47 L445.58 37.68 L444.66 38.49 L443.28 38.90 L441.90 38.90 L440.51 38.49 L440.05 38.09 L439.59 37.28 M452.48 38.90 L452.48 30.39 L451.10 31.61 L450.18 32.02 M462.61 31.61 L462.61 38.90 M458.47 35.25 L466.75 35.25 M473.66 38.90 L473.66 30.39 L472.28 31.61 L471.35 32.02 M479.64 32.42 L479.64 32.02 L480.10 31.20 L480.56 30.80 L481.48 30.39 L483.32 30.39 L484.24 30.80 L484.70 31.20 L485.16 32.02 L485.16 32.82 L484.70 33.63 L483.78 34.85 L479.18 38.90 L485.62 38.90 M489.31 30.39 L494.37 30.39 L491.61 33.63 L492.99 33.63 L493.91 34.04 L494.37 34.45 L494.83 35.66 L494.83 36.47 L494.37 37.68 L493.45 38.49 L492.07 38.90 L490.69 38.90 L489.31 38.49 L488.85 38.09 L488.39 37.28 M498.05 32.42 L498.05 32.02 L498.51 31.20 L498.97 30.80 L499.89 30.39 L501.73 30.39 L502.66 30.80 L503.12 31.20 L503.58 32.02 L503.58 32.82 L503.12 33.63 L502.20 34.85 L497.59 38.90 L504.04 38.90 M517.85 28.00 L516.92 28.90 L516.00 30.27 L515.08 32.08 L514.62 34.35 L514.62 36.16 L515.08 38.43 L516.00 40.24 L516.92 41.61 L517.85 42.51 M520.61 33.23 L525.67 33.23 L520.61 38.90 L525.67 38.90 M528.89 34.04 L537.18 34.04 M528.89 36.47 L537.18 36.47 M540.40 34.45 L540.86 32.02 L541.78 30.80 L543.16 30.39 L544.08 30.39 L545.46 30.80 L546.38 32.02 L546.84 34.04 L546.84 35.25 L546.38 37.28 L545.46 38.49 L544.08 38.90 L543.16 38.90 L541.78 38.49 L540.86 37.28 L540.40 34.85 M540.40 34.04 L540.40 35.25 M550.53 38.09 L550.99 38.49 L550.53 38.90 L550.07 38.49 L550.53 38.09 M557.89 38.90 L557.89 30.39 L556.51 31.61 L555.59 32.02 M563.88 32.42 L563.88 32.02 L564.34 31.20 L564.80 30.80 L565.72 30.39 L567.56 30.39 L568.48 30.80 L568.94 31.20 L569.40 32.02 L569.40 32.82 L568.94 33.63 L568.02 34.85 L563.42 38.90 L569.86 38.90 M573.08 32.42 L573.08 32.02 L573.54 31.20 L574.00 30.80 L574.92 30.39 L576.76 30.39 L577.69 30.80 L578.15 31.20 L578.61 32.02 L578.61 32.82 L578.15 33.63 L577.22 34.85 L572.62 38.90 L579.07 38.90 M581.83 28.00 L582.75 28.90 L583.67 30.27 L584.59 32.08 L585.05 34.35 L585.05 36.16 L584.59 38.43 L583.67 40.24 L582.75 41.61 L581.83 42.51" stroke-width="1.50"/>
<path d="M403.75 49.74 L403.75 58.25 M408.88 58.25 L408.88 54.20 L408.41 52.98 L407.48 52.58 L406.08 52.58 L405.15 52.98 L403.75 54.20 M412.61 53.80 L412.14 55.01 L412.14 55.82 L412.61 57.03 L413.54 57.84 L414.47 58.25 L415.87 58.25 L416.81 57.84 L417.74 57.03 L418.20 55.82 L418.20 55.01 L417.74 53.80 L416.81 52.98 L415.87 52.58 L414.47 52.58 L413.54 52.98 L412.61 53.80 M426.13 53.80 L425.67 52.98 L424.27 52.58 L422.87 52.58 L421.47 52.98 L421.00 53.80 L421.47 54.60 L422.40 55.01 L424.73 55.41 L425.67 55.82 L426.13 56.63 L426.13 57.03 L425.67 57.84 L424.27 58.25 L422.87 58.25 L421.47 57.84 L421.00 57.03 M429.86 49.74 L429.86 56.63 L430.33 57.84 L431.26 58.25 L432.19 58.25 M428.46 52.58 L431.73 52.58 M447.58 52.58 L447.58 59.06 L447.11 60.27 L446.65 60.68 L445.72 61.09 L444.32 61.09 L443.38 60.68 M447.58 53.80 L446.65 52.98 L445.72 52.58 L444.32 52.58 L443.38 52.98 L442.45 53.80 L441.99 55.01 L441.99 55.82 L442.45 57.03 L443.38 57.84 L444.32 58.25 L445.72 58.25 L446.65 57.84 L447.58 57.03 M456.44 52.58 L456.44 58.25 M456.44 53.80 L455.51 52.98 L454.57 52.58 L453.18 52.58 L452.24 52.98 L451.31 53.80 L450.84 55.01 L450.84 55.82 L451.31 57.03 L452.24 57.84 L453.18 58.25 L454.57 58.25 L455.51 57.84 L456.44 57.03 M460.17 49.74 L460.17 58.25 M469.03 52.58 L469.03 58.25 M469.03 53.80 L468.10 52.98 L467.16 52.58 L465.77 52.58 L464.83 52.98 L463.90 53.80 L463.43 55.01 L463.43 55.82 L463.90 57.03 L464.83 57.84 L465.77 58.25 L467.16 58.25 L468.10 57.84 L469.03 57.03 M472.29 52.58 L477.42 58.25 M477.42 52.58 L472.29 58.25 M479.75 52.58 L482.55 58.25 M485.35 52.58 L482.55 58.25 L481.62 59.87 L480.69 60.68 L479.75 61.09 L479.29 61.09 M488.15 53.39 L496.54 53.39 M488.15 55.82 L496.54 55.82 M501.67 53.39 L504.47 54.20 L505.40 54.60 L505.87 55.01 L506.33 55.82 L506.33 57.03 L505.40 57.84 L504.00 58.25 L502.14 58.25 L500.74 57.84 L499.80 57.03 M503.07 53.80 L500.74 52.98 L500.27 52.58 L499.80 51.77 L499.80 50.96 L500.74 50.15 L502.14 49.74 L504.00 49.74 L505.40 50.15 L506.33 50.96 M509.60 53.80 L513.79 53.80 L515.19 54.20 L515.66 54.60 L516.12 55.41 L516.12 56.63 L515.66 57.44 L515.19 57.84 L513.79 58.25 L509.60 58.25 L509.60 49.74 L513.79 49.74 L515.19 50.15 L515.66 50.55 L516.12 51.37 L516.12 52.17 L515.66 52.98 L515.19 53.39 L513.79 53.80 M519.85 49.74 L524.98 49.74 L522.19 52.98 L523.58 52.98 L524.52 53.39 L524.98 53.80 L525.45 55.01 L525.45 55.82 L524.98 57.03 L524.05 57.84 L522.65 58.25 L521.25 58.25 L519.85 57.84 L519.39 57.44 L518.92 56.63" stroke-width="1.50"/>
<path d="M403.35 77.45 L407.01 68.95 L410.66 77.45 M404.72 74.62 L409.29 74.62 M419.34 70.97 L418.88 70.16 L417.97 69.35 L417.06 68.95 L415.23 68.95 L414.32 69.35 L413.40 70.16 L412.94 70.97 L412.49 72.19 L412.49 74.21 L412.94 75.42 L413.40 76.23 L414.32 77.05 L415.23 77.45 L417.06 77.45 L417.97 77.05 L418.88 76.23 L419.34 75.42 L419.34 74.21 L417.06 74.21 M422.54 77.45 L422.54 68.95 L428.94 77.45 L428.94 68.95 M439.90 67.33 L431.68 80.28 M444.47 68.95 L444.47 77.45 M441.27 68.95 L447.67 68.95 M449.95 73.00 L449.49 74.21 L449.49 75.02 L449.95 76.23 L450.87 77.05 L451.78 77.45 L453.15 77.45 L454.06 77.05 L454.98 76.23 L455.43 75.02 L455.43 74.21 L454.98 73.00 L454.06 72.19 L453.15 71.78 L451.78 71.78 L450.87 72.19 L449.95 73.00 M459.09 68.95 L459.09 75.83 L459.55 77.05 L460.46 77.45 L461.37 77.45 M457.72 71.78 L460.92 71.78 M469.14 71.78 L469.14 77.45 M469.14 73.00 L468.23 72.19 L467.31 71.78 L465.94 71.78 L465.03 72.19 L464.11 73.00 L463.66 74.21 L463.66 75.02 L464.11 76.23 L465.03 77.05 L465.94 77.45 L467.31 77.45 L468.23 77.05 L469.14 76.23 M472.80 68.95 L472.80 77.45 M476.45 72.59 L484.67 72.59 M476.45 75.02 L484.67 75.02 M487.87 73.00 L488.33 70.56 L489.24 69.35 L490.61 68.95 L491.53 68.95 L492.90 69.35 L493.81 70.56 L494.27 72.59 L494.27 73.81 L493.81 75.83 L492.90 77.05 L491.53 77.45 L490.61 77.45 L489.24 77.05 L488.33 75.83 L487.87 73.40 M487.87 72.59 L487.87 73.81 M497.92 76.64 L498.38 77.05 L497.92 77.45 L497.47 77.05 L497.92 76.64 M502.04 70.97 L502.04 70.56 L502.49 69.75 L502.95 69.35 L503.86 68.95 L505.69 68.95 L506.60 69.35 L507.06 69.75 L507.52 70.56 L507.52 71.38 L507.06 72.19 L506.15 73.40 L501.58 77.45 L507.97 77.45 M511.17 73.00 L511.63 70.56 L512.54 69.35 L513.91 68.95 L514.83 68.95 L516.20 69.35 L516.66 70.16 M511.17 72.59 L511.17 74.62 L511.63 76.23 L512.54 77.05 L513.91 77.45 L514.37 77.45 L515.74 77.05 L516.66 76.23 L517.11 75.02 L517.11 74.62 L516.66 73.40 L515.74 72.59 L514.37 72.19 L513.91 72.19 L512.54 72.59 L511.63 73.40 L511.17 74.62 M520.31 73.00 L520.77 70.56 L521.68 69.35 L523.05 68.95 L523.97 68.95 L525.34 69.35 L525.79 70.16 M520.31 72.59 L520.31 74.62 L520.77 76.23 L521.68 77.05 L523.05 77.45 L523.51 77.45 L524.88 77.05 L525.79 76.23 L526.25 75.02 L526.25 74.62 L525.79 73.40 L524.88 72.59 L523.51 72.19 L523.05 72.19 L521.68 72.59 L520.77 73.40 L520.31 74.62" stroke-width="1.50"/>
<path d="M356.20 330.72 L357.38 330.72 L358.57 331.20 L359.16 332.16 L363.90 340.80 M360.35 334.56 L356.79 340.80" stroke-width="1.60"/>
<path d="M366.40 342.06 L366.40 346.40 M366.40 343.92 L366.73 342.99 L367.39 342.37 L368.05 342.06 L369.04 342.06 M374.31 345.47 L373.65 346.09 L372.99 346.40 L372.00 346.40 L371.34 346.09 L370.69 345.47 L370.36 344.54 L370.36 343.92 L370.69 342.99 L371.34 342.37 L372.00 342.06 L372.99 342.06 L373.65 342.37 L373.98 342.68 L374.31 343.30 L374.31 343.92 L370.36 343.92 M379.91 342.99 L379.59 342.37 L378.60 342.06 L377.61 342.06 L376.62 342.37 L376.29 342.99 L376.62 343.61 L377.28 343.92 L378.93 344.23 L379.59 344.54 L379.91 345.16 L379.91 345.47 L379.59 346.09 L378.60 346.40 L377.61 346.40 L376.62 346.09 L376.29 345.47 M382.55 339.89 L382.55 345.16 L382.88 346.09 L383.54 346.40 L384.20 346.40 M381.56 342.06 L383.87 342.06" stroke-width="1.60"/>
<path d="M400.01 329.22 L398.87 330.28 L397.72 331.87 L396.57 333.99 L396.00 336.64 L396.00 338.76 L396.57 341.41 L397.72 343.53 L398.87 345.12 L400.01 346.18 M405.75 333.90 L402.31 344.40 M405.17 335.90 L404.60 338.90 L404.60 340.40 L405.75 340.90 L406.89 340.90 L408.04 340.40 L409.18 339.40 L410.33 337.40 M411.48 333.90 L410.33 337.40 L409.76 339.40 L409.76 340.40 L410.33 340.90 L411.48 340.90 L412.62 339.90 L413.20 338.90 M416.06 333.90 L416.06 340.90 M422.37 340.90 L422.37 335.90 L421.80 334.40 L420.65 333.90 L418.93 333.90 L417.78 334.40 L416.06 335.90 M428.67 340.90 L428.67 335.90 L428.10 334.40 L426.95 333.90 L425.24 333.90 L424.09 334.40 L422.37 335.90 M432.69 329.22 L433.83 330.28 L434.98 331.87 L436.13 333.99 L436.70 336.64 L436.70 338.76 L436.13 341.41 L434.98 343.53 L433.83 345.12 L432.69 346.18" stroke-width="1.60"/>
<g transform="translate(24.0,183.8) rotate(-90)">
<path d="M0.80 0.00 L0.80 -10.67 L6.20 -10.67 M0.80 -5.59 L4.12 -5.59" stroke-width="1.60"/>
<path d="M10.40 0.86 L11.30 0.86 L11.00 2.72 L10.70 5.20 M14.30 0.86 L14.00 1.79 L13.70 2.41 L13.10 3.34 L12.20 4.27 L11.30 4.89 L10.70 5.20" stroke-width="1.60"/>
<path d="M29.94 -11.98 L28.87 -10.92 L27.80 -9.33 L26.73 -7.21 L26.20 -4.56 L26.20 -2.44 L26.73 0.21 L27.80 2.33 L28.87 3.92 L29.94 4.98 M37.96 -10.50 L37.96 -2.50 L37.43 -1.00 L36.89 -0.50 L35.82 0.00 L34.75 0.00 L33.68 -0.50 L33.15 -1.00 L32.62 -2.50 L32.62 -3.50 M41.17 -7.00 L44.38 0.00 M47.58 -7.00 L44.38 0.00 L43.31 2.00 L42.24 3.00 L41.17 3.50 L40.63 3.50 M50.26 -11.98 L51.33 -10.92 L52.40 -9.33 L53.47 -7.21 L54.00 -4.56 L54.00 -2.44 L53.47 0.21 L52.40 2.33 L51.33 3.92 L50.26 4.98" stroke-width="1.60"/>
</g>
</g>
</svg>
</body></html>
